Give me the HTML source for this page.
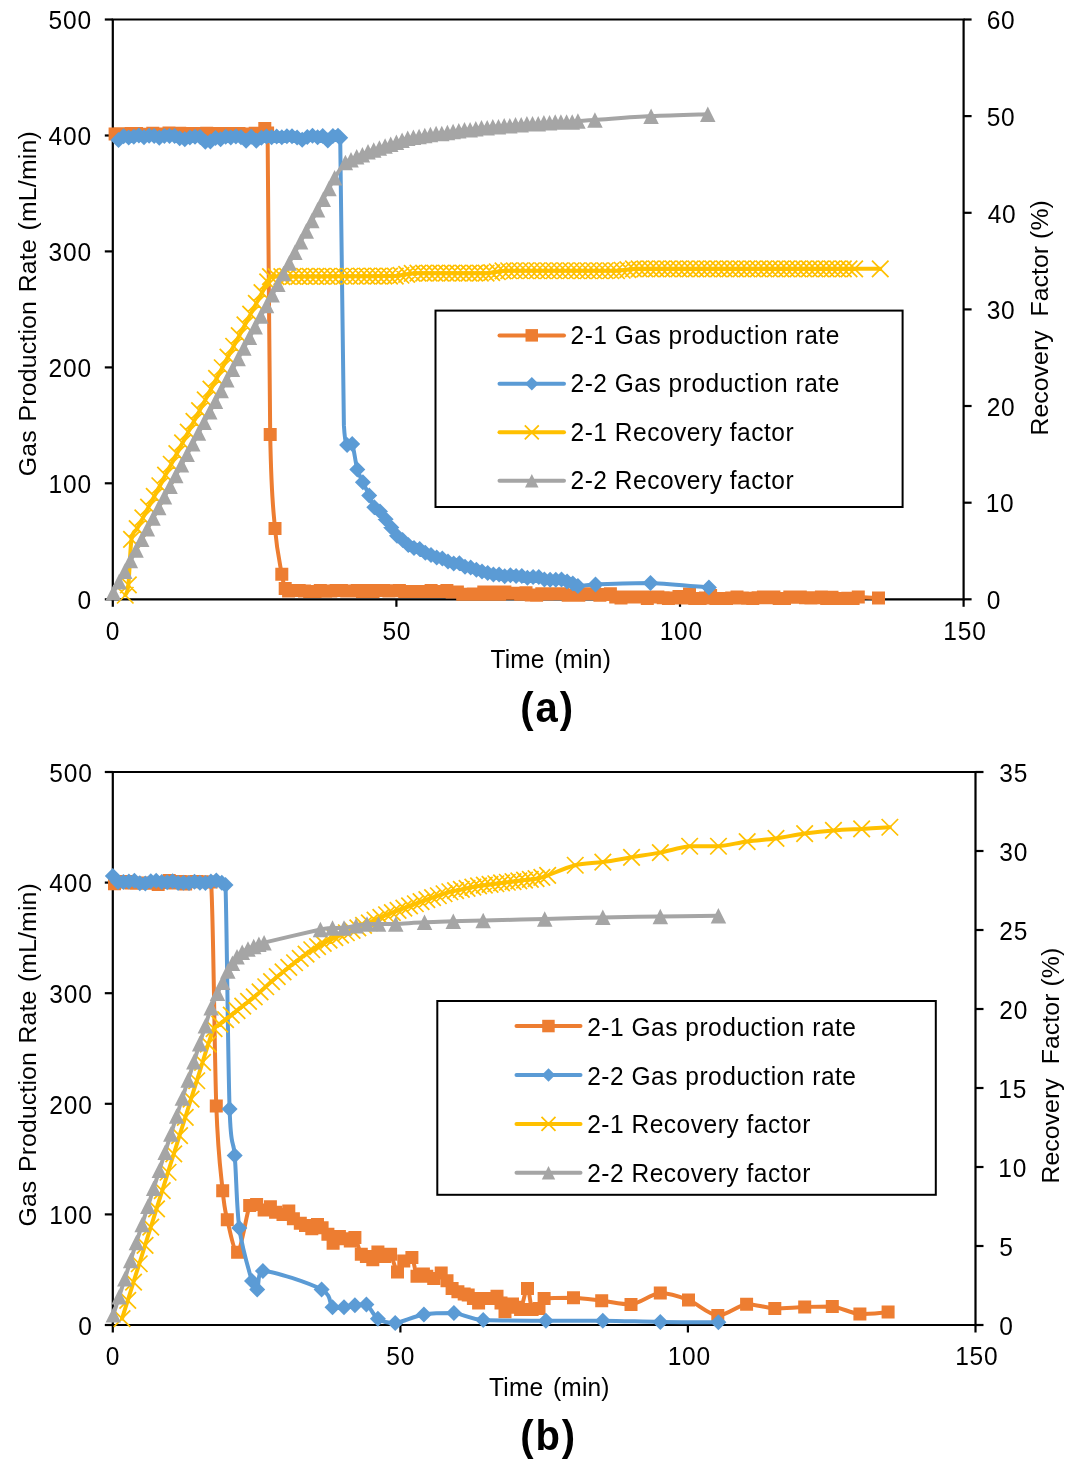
<!DOCTYPE html>
<html><head><meta charset="utf-8"><style>
html,body{margin:0;padding:0;background:#fff;}
body{width:1074px;height:1462px;overflow:hidden;}
svg{display:block;filter:blur(0.45px);}
</style></head><body>
<svg width="1074" height="1462" viewBox="0 0 1074 1462">
<rect width="1074" height="1462" fill="#fff"/>
<g stroke="#000" stroke-width="2.2" fill="none"><path d="M112.8 19.5V599.3H963.6V19.5"/><path d="M111.7 19.5H964.7"/><path d="M104.8 599.3H112.8"/><path d="M104.8 483.3H112.8"/><path d="M104.8 367.4H112.8"/><path d="M104.8 251.4H112.8"/><path d="M104.8 135.5H112.8"/><path d="M104.8 19.5H112.8"/><path d="M963.6 599.3H971.6"/><path d="M963.6 502.7H971.6"/><path d="M963.6 406H971.6"/><path d="M963.6 309.4H971.6"/><path d="M963.6 212.8H971.6"/><path d="M963.6 116.1H971.6"/><path d="M963.6 19.5H971.6"/><path d="M112.8 599.3V606.8"/><path d="M396.4 599.3V606.8"/><path d="M680 599.3V606.8"/><path d="M963.6 599.3V606.8"/></g>
<path fill="none" stroke="#ED7D31" stroke-width="4.0" stroke-linejoin="round" stroke-linecap="round" d="M115.1 134.1C116 134 118.7 133.7 120.5 133.7C122.3 133.7 124 133.9 125.8 133.9C127.6 133.9 129.4 133.6 131.2 133.6C133 133.5 134.8 133.5 136.6 133.5C138.4 133.7 140.2 134.2 142 134.3C143.8 134.4 145.6 134.4 147.4 134.4C149.2 134.2 151 133.3 152.8 133.3C154.6 133.3 156.4 133.9 158.2 134.1C160 134.1 161.8 134.1 163.6 134.1C165.4 133.9 167.2 133.1 169 133C170.7 133 172.5 133.7 174.3 133.8C176.1 133.8 177.9 133.3 179.7 133.3C181.5 133.3 183.3 133.7 185.1 133.8C186.9 133.8 188.7 133.5 190.5 133.5C192.3 133.6 194.1 134.2 195.9 134.2C197.7 134.2 199.5 133.7 201.3 133.5C203.1 133.4 204.9 133.2 206.7 133.2C208.5 133.2 210.3 133.7 212.1 133.7C213.9 133.7 215.7 133.4 217.4 133.4C219.2 133.4 221 133.4 222.8 133.5C224.6 133.6 226.4 134.3 228.2 134.3C230 134.3 231.8 133.5 233.6 133.4C235.4 133.4 237.2 133.5 239 133.6C240.8 133.7 242.6 133.9 244.4 134C246.2 134.1 248 134.4 249.8 134.4C251.6 134.2 252.7 134.2 255.2 133.2C257.7 132.2 262.7 128.5 264.8 128.5C266.9 128.5 266.7 128.5 267.6 133.1C268.5 184.2 269 368.7 270.2 434.6C271.4 500.5 273.1 505.3 275 528.6C277 551.8 280.1 564.3 281.8 574.3C283.5 584.2 284.1 585.7 285.2 588.5C286.4 591 287.2 590.7 288.6 591C290.1 591 292.1 590.5 293.9 590.4C295.7 590.4 297.4 590.4 299.2 590.4C300.9 590.5 302.7 590.9 304.5 591.1C306.2 591.2 308 591.4 309.7 591.5C311.5 591.5 313.2 591.5 315 591.5C316.8 591.3 318.5 590.5 320.3 590.4C322 590.4 323.8 591.1 325.6 591.2C327.3 591.2 329.1 591.2 330.8 591C332.6 590.9 334.3 590.5 336.1 590.4C337.9 590.4 339.6 590.4 341.4 590.4C343.1 590.5 344.9 590.8 346.7 590.9C348.4 590.9 350.2 590.9 351.9 590.9C353.7 590.8 355.4 590.4 357.2 590.4C359 590.5 360.7 591.4 362.5 591.5C364.2 591.5 366 590.6 367.8 590.6C369.5 590.6 371.3 591.5 373 591.5C374.8 591.4 376.5 590.6 378.3 590.4C380.1 590.4 381.8 590.4 383.6 590.5C385.3 590.5 387.1 590.8 388.9 590.9C390.6 590.9 392.4 590.8 394.1 590.8C395.9 590.7 397.6 590.6 399.4 590.6C401.2 590.7 402.9 591.3 404.7 591.5C406.4 591.5 408.2 591.4 410 591.4C411.7 591.4 413.5 591.5 415.2 591.5C417 591.5 418.7 591.5 420.5 591.5C422.3 591.5 424 591.5 425.8 591.5C427.5 591.3 429.3 590.4 431.1 590.4C432.8 590.4 434.6 591.3 436.3 591.5C438.1 591.5 439.8 591.5 441.6 591.4C443.4 591.3 445.1 590.4 446.9 590.4C448.6 590.5 450.4 591.6 452.2 591.9C453.9 591.9 455.7 591.9 457.4 591.9C459.2 592.3 460.9 593.8 462.7 594.2C464.5 594.2 466.2 594.2 468 594.2C469.7 594.2 471.5 593.9 473.3 593.9C475 593.9 476.8 594.2 478.5 594.2C480.3 593.9 482 591.9 483.8 591.9C485.6 591.9 487.3 594.2 489.1 594.2C490.8 594.2 492.6 591.9 494.4 591.9C496.1 591.9 497.9 594.2 499.6 594.2C501.4 594.2 503.1 592 504.9 591.9C506.7 591.9 508.4 593.1 510.2 593.3C511.9 593.3 513.7 593.3 515.5 593.3C517.2 593.4 519 594.2 520.7 594.2C522.5 594.1 524.2 592.8 526 592.8C527.8 592.9 529.5 594.5 531.3 594.9C533 595.2 534.8 595.2 536.6 595.2C538.3 595.1 540.1 594.1 541.8 593.8C543.6 593.8 545.3 593.9 547.1 593.9C548.9 593.9 550.6 593.9 552.4 593.8C554.1 593.8 555.9 593.8 557.7 593.8C559.4 593.8 561.2 593.8 562.9 593.8C564.7 594.1 566.4 595 568.2 595.2C570 595.2 571.7 595.2 573.5 595.2C575.2 595.2 577 595.2 578.8 595.2C580.5 594.9 582.3 594.1 584 593.8C585.8 593.8 587.5 593.8 589.3 593.8C591.1 593.8 592.8 593.8 594.6 593.8C596.3 594.1 598.1 595.1 599.9 595.2C601.6 595.2 603.4 594.7 605.1 594.4C606.9 594.2 608.6 593.8 610.4 593.8C612.2 594.3 613.9 596.4 615.7 597.1C617.4 597.8 619.2 598 621 598C622.7 598 624.5 597.2 626.2 597.1C628 597.1 629.7 597.1 631.5 597.1C633.3 597.1 635 597.1 636.8 597.1C638.5 597.1 640.3 597.1 642.1 597.1C643.8 597.3 645.6 598.4 647.3 598.4C649.1 598.4 650.8 597.3 652.6 597.1C654.4 597.1 656.1 597.1 657.9 597.1C659.6 597.2 661.4 597.5 663.2 597.7C664.9 597.9 666.7 598.3 668.4 598.4C670.2 598.4 671.9 598.3 673.7 598C675.5 597.6 677.2 596.5 679 596.5C680.7 596.5 682.5 597.9 684.3 597.9C686 597.5 687.8 594 689.5 594C691.3 594 693 597.6 694.8 598.4C696.6 598.4 698.3 598.4 700.1 598.4C701.8 598.3 703.6 598.4 705.4 598C707.1 597.5 708.9 595.5 710.6 595.5C712.4 595.6 714.1 597.9 715.9 598.4C717.7 598.4 719.4 598.4 721.2 598.4C722.9 598.4 724.7 598.4 726.5 598.4C728.2 598.3 730 598.2 731.7 598C733.5 597.8 735.2 597.1 737 597.1C738.8 597.1 740.5 597.7 742.3 597.9C744 598.1 745.8 598.2 747.6 598.3C749.3 598.3 751.1 598.4 752.8 598.4C754.6 598.3 756.3 598 758.1 597.8C759.9 597.6 761.6 597.1 763.4 597.1C765.1 597.1 766.9 597.8 768.7 597.8C770.4 597.8 772.2 597.1 773.9 597.1C775.7 597.2 777.4 598.2 779.2 598.4C781 598.4 782.7 598.4 784.5 598.4C786.2 598.2 788 597.3 789.8 597.1C791.5 597.1 793.3 597.2 795 597.2C796.8 597.2 798.5 597.1 800.3 597.1C802.1 597.2 803.8 597.5 805.6 597.7C807.3 597.8 809.1 598.1 810.9 598.1C812.6 598.1 814.4 598 816.1 597.8C817.9 597.6 819.6 597.1 821.4 597.1C823.2 597.2 824.9 598.3 826.7 598.4C828.4 598.4 830.2 597.3 832 597.3C833.7 597.3 835.5 598.2 837.2 598.4C839 598.4 840.7 598.4 842.5 598.4C844.3 598.4 846 598.3 847.8 598.3C849.5 598.3 851.3 598.4 853.1 598.4C854.8 598.2 854.1 597.2 858.3 597.1C862.6 597.1 875.2 597.9 878.5 598"/><path fill="#ED7D31" d="M108.6 127.6h13v13h-13zM114 127.2h13v13h-13zM119.3 127.4h13v13h-13zM124.7 127.1h13v13h-13zM130.1 127h13v13h-13zM135.5 127.8h13v13h-13zM140.9 127.9h13v13h-13zM146.3 126.8h13v13h-13zM151.7 127.6h13v13h-13zM157.1 127.6h13v13h-13zM162.5 126.5h13v13h-13zM167.8 127.3h13v13h-13zM173.2 126.8h13v13h-13zM178.6 127.3h13v13h-13zM184 127h13v13h-13zM189.4 127.7h13v13h-13zM194.8 127h13v13h-13zM200.2 126.7h13v13h-13zM205.6 127.2h13v13h-13zM210.9 126.9h13v13h-13zM216.3 127h13v13h-13zM221.7 127.8h13v13h-13zM227.1 126.9h13v13h-13zM232.5 127.1h13v13h-13zM237.9 127.5h13v13h-13zM243.3 127.9h13v13h-13zM248.7 126.7h13v13h-13zM258.3 122h13v13h-13zM261.1 126.6h13v13h-13zM263.7 428.1h13v13h-13zM268.5 522.1h13v13h-13zM275.3 567.8h13v13h-13zM278.7 582h13v13h-13zM282.1 584.5h13v13h-13zM287.4 583.9h13v13h-13zM292.7 583.9h13v13h-13zM298 584.6h13v13h-13zM303.2 585h13v13h-13zM308.5 585h13v13h-13zM313.8 583.9h13v13h-13zM319.1 584.7h13v13h-13zM324.3 584.5h13v13h-13zM329.6 583.9h13v13h-13zM334.9 583.9h13v13h-13zM340.2 584.4h13v13h-13zM345.4 584.4h13v13h-13zM350.7 583.9h13v13h-13zM356 585h13v13h-13zM361.3 584.1h13v13h-13zM366.5 585h13v13h-13zM371.8 583.9h13v13h-13zM377.1 584h13v13h-13zM382.4 584.4h13v13h-13zM387.6 584.3h13v13h-13zM392.9 584.1h13v13h-13zM398.2 585h13v13h-13zM403.5 584.9h13v13h-13zM408.7 585h13v13h-13zM414 585h13v13h-13zM419.3 585h13v13h-13zM424.6 583.9h13v13h-13zM429.8 585h13v13h-13zM435.1 584.9h13v13h-13zM440.4 583.9h13v13h-13zM445.7 585.4h13v13h-13zM450.9 585.4h13v13h-13zM456.2 587.7h13v13h-13zM461.5 587.7h13v13h-13zM466.8 587.4h13v13h-13zM472 587.7h13v13h-13zM477.3 585.4h13v13h-13zM482.6 587.7h13v13h-13zM487.9 585.4h13v13h-13zM493.1 587.7h13v13h-13zM498.4 585.4h13v13h-13zM503.7 586.8h13v13h-13zM509 586.8h13v13h-13zM514.2 587.7h13v13h-13zM519.5 586.3h13v13h-13zM524.8 588.4h13v13h-13zM530.1 588.7h13v13h-13zM535.3 587.3h13v13h-13zM540.6 587.4h13v13h-13zM545.9 587.3h13v13h-13zM551.2 587.3h13v13h-13zM556.4 587.3h13v13h-13zM561.7 588.7h13v13h-13zM567 588.7h13v13h-13zM572.3 588.7h13v13h-13zM577.5 587.3h13v13h-13zM582.8 587.3h13v13h-13zM588.1 587.3h13v13h-13zM593.4 588.7h13v13h-13zM598.6 587.9h13v13h-13zM603.9 587.3h13v13h-13zM609.2 590.6h13v13h-13zM614.5 591.5h13v13h-13zM619.7 590.6h13v13h-13zM625 590.6h13v13h-13zM630.3 590.6h13v13h-13zM635.6 590.6h13v13h-13zM640.8 591.9h13v13h-13zM646.1 590.6h13v13h-13zM651.4 590.6h13v13h-13zM656.7 591.2h13v13h-13zM661.9 591.9h13v13h-13zM667.2 591.5h13v13h-13zM672.5 590h13v13h-13zM677.8 591.4h13v13h-13zM683 587.5h13v13h-13zM688.3 591.9h13v13h-13zM693.6 591.9h13v13h-13zM698.9 591.5h13v13h-13zM704.1 589h13v13h-13zM709.4 591.9h13v13h-13zM714.7 591.9h13v13h-13zM720 591.9h13v13h-13zM725.2 591.5h13v13h-13zM730.5 590.6h13v13h-13zM735.8 591.4h13v13h-13zM741.1 591.8h13v13h-13zM746.3 591.9h13v13h-13zM751.6 591.3h13v13h-13zM756.9 590.6h13v13h-13zM762.2 591.3h13v13h-13zM767.4 590.6h13v13h-13zM772.7 591.9h13v13h-13zM778 591.9h13v13h-13zM783.3 590.6h13v13h-13zM788.5 590.7h13v13h-13zM793.8 590.6h13v13h-13zM799.1 591.2h13v13h-13zM804.4 591.6h13v13h-13zM809.6 591.3h13v13h-13zM814.9 590.6h13v13h-13zM820.2 591.9h13v13h-13zM825.5 590.8h13v13h-13zM830.7 591.9h13v13h-13zM836 591.9h13v13h-13zM841.3 591.8h13v13h-13zM846.6 591.9h13v13h-13zM851.8 590.6h13v13h-13zM872 591.5h13v13h-13z"/>
<path fill="none" stroke="#5B9BD5" stroke-width="4.0" stroke-linejoin="round" stroke-linecap="round" d="M118.5 140.1C119.3 139.5 121.9 136.6 123.6 136.2C125.3 136.2 127 137.3 128.7 137.4C130.4 137.4 132.1 137.1 133.8 136.8C135.5 136.5 137.2 135.6 138.9 135.6C140.6 135.7 142.3 137.3 144 137.3C145.7 137.3 147.4 136 149.1 135.8C150.8 135.8 152.5 135.8 154.2 136.1C155.9 136.4 157.6 137.7 159.3 137.7C161 137.7 162.7 136.2 164.4 136C166.1 136 167.8 136 169.5 136C171.2 136 172.9 136 174.6 136C176.3 136.4 178 137.7 179.7 138.2C181.4 138.8 183.1 139.3 184.8 139.3C186.5 139.2 188.2 137.9 189.9 137.5C191.6 137.1 193.3 136.9 195 136.8C196.7 136.8 198.4 136.8 200.1 136.9C201.9 137.8 203.6 141 205.3 141.7C207 141.7 208.7 141.7 210.4 141.4C212.1 140.8 213.8 138.4 215.5 138.1C217.2 138.1 218.9 139.3 220.6 139.3C222.3 139.1 224 137.2 225.7 136.8C227.4 136.8 229.1 137.4 230.8 137.4C232.5 137.3 234.2 136.5 235.9 136.4C237.6 136.4 239.3 136.5 241 137.2C242.7 138 244.4 140.8 246.1 140.8C247.8 140.7 249.5 136.7 251.2 136.7C252.9 136.7 254.6 140.5 256.3 140.7C258 140.7 259.7 138.4 261.4 137.7C263.1 137.1 264.8 136.7 266.5 136.6C268.2 136.6 269.9 137.2 271.6 137.2C273.3 137.2 275 136.5 276.7 136.5C278.4 136.5 280.1 137.2 281.8 137.2C283.5 137.2 285.2 136.4 286.9 136.3C288.6 136.3 290.3 136.3 292 136.3C293.7 136.5 295.4 137 297.1 137.6C298.8 138.1 300.5 139.8 302.2 139.8C303.9 139.7 305.6 137.7 307.3 137.1C309.1 136.4 310.8 135.8 312.5 135.8C314.2 135.8 315.9 137.2 317.6 137.2C319.3 137.2 321 136 322.7 136C324.4 136.6 326.1 140.4 327.8 140.4C329.5 140.4 331.2 136.8 332.9 136C334.6 135.8 336.7 135.8 338 135.8C339.2 136.1 339.3 135.8 340.2 137.8C341.2 186 342.8 374.1 343.9 425.4C345.1 445.1 345.7 442 347.1 445.1C348.4 445.1 350.5 443.9 352.2 443.9C353.9 448 355.5 463 357.3 469.4C359.1 475.8 361 477.8 362.9 482.2C364.9 486.5 367.3 491.3 369.2 495.5C371.1 499.7 372.5 504.7 374.3 507.3C376.1 510 378.1 509.5 380 511.4C381.8 513.4 383.7 516.5 385.6 519.2C387.5 521.8 389.4 524.6 391.3 527.4C393.2 530.1 395.1 533.7 397 535.8C398.9 537.9 400.7 538.6 402.6 540.1C404.5 541.7 406.4 543.8 408.3 545.1C410.2 546.4 412.1 547.4 414 548.1C415.9 548.8 417.8 548.4 419.7 549.1C421.5 549.9 423.4 551.7 425.3 552.7C427.2 553.6 429.1 554.1 431 554.9C432.9 555.7 434.8 556.9 436.7 557.5C438.6 558.1 440.5 558 442.3 558.6C444.2 559.3 446.1 560.8 448 561.6C449.9 562.4 451.8 563.1 453.7 563.4C455.6 563.4 457.5 563.3 459.4 563.3C461.2 563.9 463.1 566 465 566.7C466.9 567.4 468.8 567 470.7 567.5C472.6 568 474.5 569.2 476.4 569.8C478.3 570.5 480.2 570.8 482 571.4C483.9 571.9 485.8 572.5 487.7 573C489.6 573.5 491.5 574.2 493.4 574.5C495.3 574.5 497.2 574.4 499.1 574.4C501 574.7 502.8 576 504.7 576.2C506.6 576.2 508.5 575.2 510.4 575.2C512.3 575.2 514.2 576 516.1 576.1C518 576.1 519.9 576.1 521.8 576.1C523.6 576.4 525.5 577.6 527.4 577.7C529.3 577.7 531.2 577 533.1 576.9C535 576.9 536.9 576.9 538.8 577C540.7 577.4 542.5 579 544.4 579.4C546.3 579.7 548.2 579.6 550.1 579.7C552 579.7 553.9 579.7 555.8 579.7C557.7 579.6 559.6 579.6 561.5 579.6C563.3 579.9 565.2 580.8 567.1 581.4C569 582.1 571 582.8 572.8 583.6C574.6 584.3 574.1 585.8 577.9 586C581.7 586 583.4 585 595.5 584.5C607.6 584 631.6 582.9 650.5 582.9C669.4 583.5 699.2 586.8 708.9 587.6"/><path fill="#5B9BD5" d="M118.5 132.1l8.0 8.0l-8.0 8.0l-8.0 -8.0zM123.6 128.2l8.0 8.0l-8.0 8.0l-8.0 -8.0zM128.7 129.4l8.0 8.0l-8.0 8.0l-8.0 -8.0zM133.8 128.8l8.0 8.0l-8.0 8.0l-8.0 -8.0zM138.9 127.6l8.0 8.0l-8.0 8.0l-8.0 -8.0zM144 129.3l8.0 8.0l-8.0 8.0l-8.0 -8.0zM149.1 127.8l8.0 8.0l-8.0 8.0l-8.0 -8.0zM154.2 128.1l8.0 8.0l-8.0 8.0l-8.0 -8.0zM159.3 129.7l8.0 8.0l-8.0 8.0l-8.0 -8.0zM164.4 128l8.0 8.0l-8.0 8.0l-8.0 -8.0zM169.5 128l8.0 8.0l-8.0 8.0l-8.0 -8.0zM174.6 128l8.0 8.0l-8.0 8.0l-8.0 -8.0zM179.7 130.2l8.0 8.0l-8.0 8.0l-8.0 -8.0zM184.8 131.3l8.0 8.0l-8.0 8.0l-8.0 -8.0zM189.9 129.5l8.0 8.0l-8.0 8.0l-8.0 -8.0zM195 128.8l8.0 8.0l-8.0 8.0l-8.0 -8.0zM200.1 128.9l8.0 8.0l-8.0 8.0l-8.0 -8.0zM205.3 133.7l8.0 8.0l-8.0 8.0l-8.0 -8.0zM210.4 133.4l8.0 8.0l-8.0 8.0l-8.0 -8.0zM215.5 130.1l8.0 8.0l-8.0 8.0l-8.0 -8.0zM220.6 131.3l8.0 8.0l-8.0 8.0l-8.0 -8.0zM225.7 128.8l8.0 8.0l-8.0 8.0l-8.0 -8.0zM230.8 129.4l8.0 8.0l-8.0 8.0l-8.0 -8.0zM235.9 128.4l8.0 8.0l-8.0 8.0l-8.0 -8.0zM241 129.2l8.0 8.0l-8.0 8.0l-8.0 -8.0zM246.1 132.8l8.0 8.0l-8.0 8.0l-8.0 -8.0zM251.2 128.7l8.0 8.0l-8.0 8.0l-8.0 -8.0zM256.3 132.7l8.0 8.0l-8.0 8.0l-8.0 -8.0zM261.4 129.7l8.0 8.0l-8.0 8.0l-8.0 -8.0zM266.5 128.6l8.0 8.0l-8.0 8.0l-8.0 -8.0zM271.6 129.2l8.0 8.0l-8.0 8.0l-8.0 -8.0zM276.7 128.5l8.0 8.0l-8.0 8.0l-8.0 -8.0zM281.8 129.2l8.0 8.0l-8.0 8.0l-8.0 -8.0zM286.9 128.3l8.0 8.0l-8.0 8.0l-8.0 -8.0zM292 128.3l8.0 8.0l-8.0 8.0l-8.0 -8.0zM297.1 129.6l8.0 8.0l-8.0 8.0l-8.0 -8.0zM302.2 131.8l8.0 8.0l-8.0 8.0l-8.0 -8.0zM307.3 129.1l8.0 8.0l-8.0 8.0l-8.0 -8.0zM312.5 127.8l8.0 8.0l-8.0 8.0l-8.0 -8.0zM317.6 129.2l8.0 8.0l-8.0 8.0l-8.0 -8.0zM322.7 128l8.0 8.0l-8.0 8.0l-8.0 -8.0zM327.8 132.4l8.0 8.0l-8.0 8.0l-8.0 -8.0zM332.9 128l8.0 8.0l-8.0 8.0l-8.0 -8.0zM338 127.8l8.0 8.0l-8.0 8.0l-8.0 -8.0zM340.2 129.8l8.0 8.0l-8.0 8.0l-8.0 -8.0zM347.1 437.1l8.0 8.0l-8.0 8.0l-8.0 -8.0zM352.2 435.9l8.0 8.0l-8.0 8.0l-8.0 -8.0zM357.3 461.4l8.0 8.0l-8.0 8.0l-8.0 -8.0zM362.9 474.2l8.0 8.0l-8.0 8.0l-8.0 -8.0zM369.2 487.5l8.0 8.0l-8.0 8.0l-8.0 -8.0zM374.3 499.3l8.0 8.0l-8.0 8.0l-8.0 -8.0zM380 503.4l8.0 8.0l-8.0 8.0l-8.0 -8.0zM385.6 511.2l8.0 8.0l-8.0 8.0l-8.0 -8.0zM391.3 519.4l8.0 8.0l-8.0 8.0l-8.0 -8.0zM397 527.8l8.0 8.0l-8.0 8.0l-8.0 -8.0zM402.6 532.1l8.0 8.0l-8.0 8.0l-8.0 -8.0zM408.3 537.1l8.0 8.0l-8.0 8.0l-8.0 -8.0zM414 540.1l8.0 8.0l-8.0 8.0l-8.0 -8.0zM419.7 541.1l8.0 8.0l-8.0 8.0l-8.0 -8.0zM425.3 544.7l8.0 8.0l-8.0 8.0l-8.0 -8.0zM431 546.9l8.0 8.0l-8.0 8.0l-8.0 -8.0zM436.7 549.5l8.0 8.0l-8.0 8.0l-8.0 -8.0zM442.3 550.6l8.0 8.0l-8.0 8.0l-8.0 -8.0zM448 553.6l8.0 8.0l-8.0 8.0l-8.0 -8.0zM453.7 555.4l8.0 8.0l-8.0 8.0l-8.0 -8.0zM459.4 555.3l8.0 8.0l-8.0 8.0l-8.0 -8.0zM465 558.7l8.0 8.0l-8.0 8.0l-8.0 -8.0zM470.7 559.5l8.0 8.0l-8.0 8.0l-8.0 -8.0zM476.4 561.8l8.0 8.0l-8.0 8.0l-8.0 -8.0zM482 563.4l8.0 8.0l-8.0 8.0l-8.0 -8.0zM487.7 565l8.0 8.0l-8.0 8.0l-8.0 -8.0zM493.4 566.5l8.0 8.0l-8.0 8.0l-8.0 -8.0zM499.1 566.4l8.0 8.0l-8.0 8.0l-8.0 -8.0zM504.7 568.2l8.0 8.0l-8.0 8.0l-8.0 -8.0zM510.4 567.2l8.0 8.0l-8.0 8.0l-8.0 -8.0zM516.1 568.1l8.0 8.0l-8.0 8.0l-8.0 -8.0zM521.8 568.1l8.0 8.0l-8.0 8.0l-8.0 -8.0zM527.4 569.7l8.0 8.0l-8.0 8.0l-8.0 -8.0zM533.1 568.9l8.0 8.0l-8.0 8.0l-8.0 -8.0zM538.8 569l8.0 8.0l-8.0 8.0l-8.0 -8.0zM544.4 571.4l8.0 8.0l-8.0 8.0l-8.0 -8.0zM550.1 571.7l8.0 8.0l-8.0 8.0l-8.0 -8.0zM555.8 571.7l8.0 8.0l-8.0 8.0l-8.0 -8.0zM561.5 571.6l8.0 8.0l-8.0 8.0l-8.0 -8.0zM567.1 573.4l8.0 8.0l-8.0 8.0l-8.0 -8.0zM572.8 575.6l8.0 8.0l-8.0 8.0l-8.0 -8.0zM577.9 578l8.0 8.0l-8.0 8.0l-8.0 -8.0zM595.5 576.5l8.0 8.0l-8.0 8.0l-8.0 -8.0zM650.5 574.9l8.0 8.0l-8.0 8.0l-8.0 -8.0zM708.9 579.6l8.0 8.0l-8.0 8.0l-8.0 -8.0z"/>
<path fill="none" stroke="#FFC000" stroke-width="4.0" stroke-linejoin="round" stroke-linecap="round" d="M125.3 595.2C125.8 593.5 127.4 594.1 128.4 584.8C129.4 575.5 130.1 548.7 131.5 539.4C133 530 135.3 532.2 137.2 528.6C139.1 525.1 141 521.5 142.9 517.9C144.8 514.3 146.6 510.8 148.5 507.2C150.4 503.6 152.3 500 154.2 496.5C156.1 492.9 158 489.3 159.9 485.7C161.8 482.2 163.7 478.6 165.5 475C167.4 471.4 169.3 467.8 171.2 464.3C173.1 460.7 175 457.1 176.9 453.5C178.8 450 180.7 446.4 182.6 442.8C184.5 439.2 186.3 435.7 188.2 432.1C190.1 428.5 192 424.9 193.9 421.4C195.8 417.8 197.7 414.2 199.6 410.6C201.5 407.1 203.4 403.5 205.3 399.9C207.1 396.3 209 392.8 210.9 389.2C212.8 385.6 214.7 382 216.6 378.5C218.5 374.9 220.4 371.3 222.3 367.7C224.2 364.2 226.1 360.6 227.9 357C229.8 353.4 231.7 349.9 233.6 346.3C235.5 342.7 237.4 339.1 239.3 335.6C241.2 332 243.1 328.4 245 324.8C246.8 321.3 248.7 317.7 250.6 314.1C252.5 310.5 254.4 307 256.3 303.4C258.2 299.8 260.1 296.2 262 292.7C263.9 289.1 266.2 284.6 267.6 281.9C269.1 279.2 269.1 277.4 270.5 276.5C271.9 276.5 274.3 276.5 276.2 276.5C278 276.5 279.9 276.5 281.8 276.5C283.7 276.5 285.6 276.5 287.5 276.5C289.4 276.5 291.3 276.5 293.2 276.5C295.1 276.5 297 276.4 298.8 276.4C300.7 276.4 302.6 276.4 304.5 276.4C306.4 276.4 308.3 276.4 310.2 276.4C312.1 276.4 314 276.4 315.9 276.4C317.7 276.4 319.6 276.4 321.5 276.4C323.4 276.3 325.3 276.3 327.2 276.3C329.1 276.3 331 276.3 332.9 276.3C334.8 276.3 336.7 276.3 338.5 276.3C340.4 276.3 342.3 276.3 344.2 276.3C346.1 276.3 348 276.2 349.9 276.2C351.8 276.2 353.7 276.2 355.6 276.2C357.5 276.2 359.3 276.2 361.2 276.2C363.1 276.2 365 276.2 366.9 276.2C368.8 276.2 370.7 276.2 372.6 276.2C374.5 276.1 376.4 276.1 378.2 276.1C380.1 276.1 382 276.1 383.9 276.1C385.8 276.1 387.7 276.1 389.6 276.1C391.5 276.1 393.4 276.1 395.3 276.1C397.2 275.9 399 275.6 400.9 275.3C402.8 275 404.7 274.6 406.6 274.3C408.5 274 410.4 273.5 412.3 273.4C414.2 273.2 416.1 273.2 418 273.2C419.8 273.2 421.7 273.2 423.6 273.2C425.5 273.2 427.4 273.2 429.3 273.2C431.2 273.2 433.1 273.2 435 273.2C436.9 273.2 438.8 273.2 440.6 273.2C442.5 273.2 444.4 273.2 446.3 273.2C448.2 273.2 450.1 273.2 452 273.2C453.9 273.2 455.8 273.2 457.7 273.2C459.5 273.2 461.4 273.2 463.3 273.2C465.2 273.2 467.1 273.2 469 273.2C470.9 273.2 472.8 273.2 474.7 273.2C476.6 273.2 478.5 273.2 480.3 273.2C482.2 273.2 484.1 273.2 486 273.2C487.9 273.1 489.8 272.8 491.7 272.5C493.6 272.3 495.5 272 497.4 271.7C499.3 271.4 501.1 271.1 503 270.9C504.9 270.7 506.8 270.8 508.7 270.7C510.6 270.7 512.5 270.7 514.4 270.7C516.3 270.7 518.2 270.7 520 270.7C521.9 270.7 523.8 270.7 525.7 270.7C527.6 270.7 529.5 270.7 531.4 270.7C533.3 270.7 535.2 270.7 537.1 270.7C539 270.7 540.8 270.7 542.7 270.7C544.6 270.7 546.5 270.7 548.4 270.7C550.3 270.7 552.2 270.7 554.1 270.7C556 270.7 557.9 270.7 559.8 270.7C561.6 270.7 563.5 270.7 565.4 270.7C567.3 270.7 569.2 270.7 571.1 270.7C573 270.7 574.9 270.7 576.8 270.7C578.7 270.7 580.6 270.7 582.4 270.7C584.3 270.7 586.2 270.7 588.1 270.7C590 270.7 591.9 270.7 593.8 270.7C595.7 270.7 597.6 270.7 599.5 270.7C601.3 270.7 603.2 270.7 605.1 270.7C607 270.7 608.9 270.7 610.8 270.7C612.7 270.7 614.6 270.7 616.5 270.7C618.4 270.7 620.3 270.4 622.1 270.2C624 270 625.9 269.8 627.8 269.6C629.7 269.4 631.6 269.1 633.5 268.9C635.4 268.8 637.3 268.8 639.2 268.8C641.1 268.8 642.9 268.8 644.8 268.8C646.7 268.8 648.6 268.8 650.5 268.8C652.4 268.8 654.3 268.8 656.2 268.8C658.1 268.8 660 268.8 661.8 268.8C663.7 268.8 665.6 268.8 667.5 268.8C669.4 268.8 671.3 268.8 673.2 268.8C675.1 268.8 677 268.8 678.9 268.8C680.8 268.8 682.6 268.8 684.5 268.8C686.4 268.8 688.3 268.8 690.2 268.8C692.1 268.8 694 268.8 695.9 268.8C697.8 268.8 699.7 268.8 701.6 268.8C703.4 268.8 705.3 268.8 707.2 268.8C709.1 268.8 711 268.8 712.9 268.8C714.8 268.8 716.7 268.8 718.6 268.8C720.5 268.8 722.4 268.8 724.2 268.8C726.1 268.8 728 268.8 729.9 268.8C731.8 268.8 733.7 268.8 735.6 268.8C737.5 268.8 739.4 268.8 741.3 268.8C743.1 268.8 745 268.8 746.9 268.8C748.8 268.8 750.7 268.8 752.6 268.8C754.5 268.8 756.4 268.8 758.3 268.8C760.2 268.8 762.1 268.8 763.9 268.8C765.8 268.8 767.7 268.8 769.6 268.8C771.5 268.8 773.4 268.8 775.3 268.8C777.2 268.8 779.1 268.8 781 268.8C782.9 268.8 784.7 268.8 786.6 268.8C788.5 268.8 790.4 268.8 792.3 268.8C794.2 268.8 796.1 268.8 798 268.8C799.9 268.8 801.8 268.8 803.6 268.8C805.5 268.8 807.4 268.8 809.3 268.8C811.2 268.8 813.1 268.8 815 268.8C816.9 268.8 818.8 268.8 820.7 268.8C822.6 268.8 824.4 268.8 826.3 268.8C828.2 268.8 830.1 268.8 832 268.8C833.9 268.8 835.8 268.8 837.7 268.8C839.6 268.8 841.5 268.8 843.4 268.8C845.2 268.8 847.1 268.8 849 268.8C850.9 268.8 849.5 268.8 854.7 268.8C859.9 268.8 876 268.8 880.2 268.8"/><path fill="none" stroke="#FFC000" stroke-width="1.75" d="M117 587l16.5 16.5M117 603.5l16.5 -16.5M120.1 576.6l16.5 16.5M120.1 593.1l16.5 -16.5M123.3 531.1l16.5 16.5M123.3 547.6l16.5 -16.5M128.9 520.4l16.5 16.5M128.9 536.9l16.5 -16.5M134.6 509.7l16.5 16.5M134.6 526.2l16.5 -16.5M140.3 498.9l16.5 16.5M140.3 515.4l16.5 -16.5M146 488.2l16.5 16.5M146 504.7l16.5 -16.5M151.6 477.5l16.5 16.5M151.6 494l16.5 -16.5M157.3 466.8l16.5 16.5M157.3 483.3l16.5 -16.5M163 456l16.5 16.5M163 472.5l16.5 -16.5M168.6 445.3l16.5 16.5M168.6 461.8l16.5 -16.5M174.3 434.6l16.5 16.5M174.3 451.1l16.5 -16.5M180 423.8l16.5 16.5M180 440.3l16.5 -16.5M185.7 413.1l16.5 16.5M185.7 429.6l16.5 -16.5M191.3 402.4l16.5 16.5M191.3 418.9l16.5 -16.5M197 391.7l16.5 16.5M197 408.2l16.5 -16.5M202.7 380.9l16.5 16.5M202.7 397.4l16.5 -16.5M208.3 370.2l16.5 16.5M208.3 386.7l16.5 -16.5M214 359.5l16.5 16.5M214 376l16.5 -16.5M219.7 348.8l16.5 16.5M219.7 365.3l16.5 -16.5M225.4 338l16.5 16.5M225.4 354.5l16.5 -16.5M231 327.3l16.5 16.5M231 343.8l16.5 -16.5M236.7 316.6l16.5 16.5M236.7 333.1l16.5 -16.5M242.4 305.9l16.5 16.5M242.4 322.4l16.5 -16.5M248.1 295.1l16.5 16.5M248.1 311.6l16.5 -16.5M253.7 284.4l16.5 16.5M253.7 300.9l16.5 -16.5M259.4 273.7l16.5 16.5M259.4 290.2l16.5 -16.5M262.2 268.3l16.5 16.5M262.2 284.8l16.5 -16.5M267.9 268.3l16.5 16.5M267.9 284.8l16.5 -16.5M273.6 268.3l16.5 16.5M273.6 284.8l16.5 -16.5M279.2 268.2l16.5 16.5M279.2 284.7l16.5 -16.5M284.9 268.2l16.5 16.5M284.9 284.7l16.5 -16.5M290.6 268.2l16.5 16.5M290.6 284.7l16.5 -16.5M296.3 268.2l16.5 16.5M296.3 284.7l16.5 -16.5M301.9 268.1l16.5 16.5M301.9 284.6l16.5 -16.5M307.6 268.1l16.5 16.5M307.6 284.6l16.5 -16.5M313.3 268.1l16.5 16.5M313.3 284.6l16.5 -16.5M319 268.1l16.5 16.5M319 284.6l16.5 -16.5M324.6 268.1l16.5 16.5M324.6 284.6l16.5 -16.5M330.3 268l16.5 16.5M330.3 284.5l16.5 -16.5M336 268l16.5 16.5M336 284.5l16.5 -16.5M341.6 268l16.5 16.5M341.6 284.5l16.5 -16.5M347.3 268l16.5 16.5M347.3 284.5l16.5 -16.5M353 267.9l16.5 16.5M353 284.4l16.5 -16.5M358.7 267.9l16.5 16.5M358.7 284.4l16.5 -16.5M364.3 267.9l16.5 16.5M364.3 284.4l16.5 -16.5M370 267.9l16.5 16.5M370 284.4l16.5 -16.5M375.7 267.9l16.5 16.5M375.7 284.4l16.5 -16.5M381.3 267.8l16.5 16.5M381.3 284.3l16.5 -16.5M387 267.8l16.5 16.5M387 284.3l16.5 -16.5M392.7 267l16.5 16.5M392.7 283.5l16.5 -16.5M398.4 266.1l16.5 16.5M398.4 282.6l16.5 -16.5M404 265.1l16.5 16.5M404 281.6l16.5 -16.5M409.7 264.9l16.5 16.5M409.7 281.4l16.5 -16.5M415.4 264.9l16.5 16.5M415.4 281.4l16.5 -16.5M421 264.9l16.5 16.5M421 281.4l16.5 -16.5M426.7 264.9l16.5 16.5M426.7 281.4l16.5 -16.5M432.4 264.9l16.5 16.5M432.4 281.4l16.5 -16.5M438.1 264.9l16.5 16.5M438.1 281.4l16.5 -16.5M443.7 264.9l16.5 16.5M443.7 281.4l16.5 -16.5M449.4 264.9l16.5 16.5M449.4 281.4l16.5 -16.5M455.1 264.9l16.5 16.5M455.1 281.4l16.5 -16.5M460.8 264.9l16.5 16.5M460.8 281.4l16.5 -16.5M466.4 264.9l16.5 16.5M466.4 281.4l16.5 -16.5M472.1 264.9l16.5 16.5M472.1 281.4l16.5 -16.5M477.8 264.9l16.5 16.5M477.8 281.4l16.5 -16.5M483.4 264.3l16.5 16.5M483.4 280.8l16.5 -16.5M489.1 263.5l16.5 16.5M489.1 280l16.5 -16.5M494.8 262.7l16.5 16.5M494.8 279.2l16.5 -16.5M500.5 262.5l16.5 16.5M500.5 279l16.5 -16.5M506.1 262.5l16.5 16.5M506.1 279l16.5 -16.5M511.8 262.5l16.5 16.5M511.8 279l16.5 -16.5M517.5 262.5l16.5 16.5M517.5 279l16.5 -16.5M523.1 262.5l16.5 16.5M523.1 279l16.5 -16.5M528.8 262.5l16.5 16.5M528.8 279l16.5 -16.5M534.5 262.5l16.5 16.5M534.5 279l16.5 -16.5M540.2 262.5l16.5 16.5M540.2 279l16.5 -16.5M545.8 262.5l16.5 16.5M545.8 279l16.5 -16.5M551.5 262.5l16.5 16.5M551.5 279l16.5 -16.5M557.2 262.5l16.5 16.5M557.2 279l16.5 -16.5M562.8 262.5l16.5 16.5M562.8 279l16.5 -16.5M568.5 262.5l16.5 16.5M568.5 279l16.5 -16.5M574.2 262.5l16.5 16.5M574.2 279l16.5 -16.5M579.9 262.5l16.5 16.5M579.9 279l16.5 -16.5M585.5 262.5l16.5 16.5M585.5 279l16.5 -16.5M591.2 262.5l16.5 16.5M591.2 279l16.5 -16.5M596.9 262.5l16.5 16.5M596.9 279l16.5 -16.5M602.6 262.5l16.5 16.5M602.6 279l16.5 -16.5M608.2 262.5l16.5 16.5M608.2 279l16.5 -16.5M613.9 262l16.5 16.5M613.9 278.5l16.5 -16.5M619.6 261.3l16.5 16.5M619.6 277.8l16.5 -16.5M625.2 260.7l16.5 16.5M625.2 277.2l16.5 -16.5M630.9 260.6l16.5 16.5M630.9 277.1l16.5 -16.5M636.6 260.6l16.5 16.5M636.6 277.1l16.5 -16.5M642.3 260.6l16.5 16.5M642.3 277.1l16.5 -16.5M647.9 260.6l16.5 16.5M647.9 277.1l16.5 -16.5M653.6 260.6l16.5 16.5M653.6 277.1l16.5 -16.5M659.3 260.6l16.5 16.5M659.3 277.1l16.5 -16.5M664.9 260.6l16.5 16.5M664.9 277.1l16.5 -16.5M670.6 260.6l16.5 16.5M670.6 277.1l16.5 -16.5M676.3 260.6l16.5 16.5M676.3 277.1l16.5 -16.5M682 260.6l16.5 16.5M682 277.1l16.5 -16.5M687.6 260.6l16.5 16.5M687.6 277.1l16.5 -16.5M693.3 260.6l16.5 16.5M693.3 277.1l16.5 -16.5M699 260.6l16.5 16.5M699 277.1l16.5 -16.5M704.6 260.6l16.5 16.5M704.6 277.1l16.5 -16.5M710.3 260.6l16.5 16.5M710.3 277.1l16.5 -16.5M716 260.6l16.5 16.5M716 277.1l16.5 -16.5M721.7 260.6l16.5 16.5M721.7 277.1l16.5 -16.5M727.3 260.6l16.5 16.5M727.3 277.1l16.5 -16.5M733 260.6l16.5 16.5M733 277.1l16.5 -16.5M738.7 260.6l16.5 16.5M738.7 277.1l16.5 -16.5M744.4 260.6l16.5 16.5M744.4 277.1l16.5 -16.5M750 260.6l16.5 16.5M750 277.1l16.5 -16.5M755.7 260.6l16.5 16.5M755.7 277.1l16.5 -16.5M761.4 260.6l16.5 16.5M761.4 277.1l16.5 -16.5M767 260.6l16.5 16.5M767 277.1l16.5 -16.5M772.7 260.6l16.5 16.5M772.7 277.1l16.5 -16.5M778.4 260.6l16.5 16.5M778.4 277.1l16.5 -16.5M784.1 260.6l16.5 16.5M784.1 277.1l16.5 -16.5M789.7 260.6l16.5 16.5M789.7 277.1l16.5 -16.5M795.4 260.6l16.5 16.5M795.4 277.1l16.5 -16.5M801.1 260.6l16.5 16.5M801.1 277.1l16.5 -16.5M806.7 260.6l16.5 16.5M806.7 277.1l16.5 -16.5M812.4 260.6l16.5 16.5M812.4 277.1l16.5 -16.5M818.1 260.6l16.5 16.5M818.1 277.1l16.5 -16.5M823.8 260.6l16.5 16.5M823.8 277.1l16.5 -16.5M829.4 260.6l16.5 16.5M829.4 277.1l16.5 -16.5M835.1 260.6l16.5 16.5M835.1 277.1l16.5 -16.5M840.8 260.6l16.5 16.5M840.8 277.1l16.5 -16.5M846.4 260.6l16.5 16.5M846.4 277.1l16.5 -16.5M872 260.6l16.5 16.5M872 277.1l16.5 -16.5"/>
<path fill="none" stroke="#A5A5A5" stroke-width="4.0" stroke-linejoin="round" stroke-linecap="round" d="M113.4 592.4C114.3 590.7 117.1 585.4 119 581.8C120.9 578.3 122.8 574.7 124.7 571.2C126.6 567.6 128.5 564.1 130.4 560.6C132.3 557 134.2 553.5 136.1 549.9C137.9 546.4 139.8 542.8 141.7 539.3C143.6 535.7 145.5 532.2 147.4 528.7C149.3 525.1 151.2 521.6 153.1 518C155 514.5 156.9 510.9 158.7 507.4C160.6 503.9 162.5 500.3 164.4 496.8C166.3 493.2 168.2 489.7 170.1 486.1C172 482.6 173.9 479.1 175.8 475.5C177.6 472 179.5 468.4 181.4 464.9C183.3 461.3 185.2 457.8 187.1 454.3C189 450.7 190.9 447.2 192.8 443.6C194.7 440.1 196.6 436.5 198.4 433C200.3 429.5 202.2 425.9 204.1 422.4C206 418.8 207.9 415.3 209.8 411.7C211.7 408.2 213.6 404.6 215.5 401.1C217.4 397.6 219.2 394 221.1 390.5C223 386.9 224.9 383.4 226.8 379.8C228.7 376.3 230.6 372.8 232.5 369.2C234.4 365.7 236.3 362.1 238.2 358.6C240 355 241.9 351.5 243.8 348C245.7 344.4 247.6 340.9 249.5 337.3C251.4 333.8 253.3 330.2 255.2 326.7C257.1 323.2 258.9 319.6 260.8 316.1C262.7 312.5 264.6 309 266.5 305.4C268.4 301.9 270.3 298.4 272.2 294.8C274.1 291.3 276 287.7 277.9 284.2C279.7 280.6 281.6 277.1 283.5 273.5C285.4 270 287.3 266.5 289.2 262.9C291.1 259.4 293 255.8 294.9 252.3C296.8 248.7 298.7 245.2 300.5 241.7C302.4 238.1 304.3 234.6 306.2 231C308.1 227.5 310 223.9 311.9 220.4C313.8 216.9 315.7 213.3 317.6 209.8C319.4 206.2 321.3 202.7 323.2 199.1C325.1 195.6 327 192.1 328.9 188.5C330.8 185 331.8 182.2 334.6 177.9C337.3 173.5 342.6 165.6 345.4 162.5C348.1 159.6 349.1 160.6 351 159.6C352.9 158.7 354.8 157.5 356.7 156.7C358.6 155.9 360.5 155.6 362.4 154.8C364.3 154 366.1 152.7 368 151.9C369.9 151.1 371.8 150.6 373.7 150C375.6 149.3 377.5 148.7 379.4 148C381.3 147.4 383.2 146.7 385.1 146.1C386.9 145.4 388.8 144.8 390.7 144.2C392.6 143.5 394.5 142.9 396.4 142.2C398.3 141.6 400.2 140.9 402.1 140.3C404 139.6 405.9 138.8 407.7 138.4C409.6 137.9 411.5 137.7 413.4 137.4C415.3 137.1 417.2 136.7 419.1 136.4C421 136.1 422.9 135.8 424.8 135.5C426.7 135.1 428.5 134.8 430.4 134.5C432.3 134.2 434.2 133.7 436.1 133.5C438 133.5 439.9 133.5 441.8 133.5C443.7 133.4 445.6 132.9 447.4 132.6C449.3 132.2 451.2 131.9 453.1 131.6C455 131.3 456.9 131 458.8 130.6C460.7 130.3 462.6 129.8 464.5 129.7C466.4 129.7 468.2 129.7 470.1 129.7C472 129.5 473.9 129 475.8 128.7C477.7 128.4 479.6 127.9 481.5 127.7C483.4 127.7 485.3 127.7 487.2 127.7C489 127.6 490.9 126.9 492.8 126.8C494.7 126.8 496.6 126.8 498.5 126.8C500.4 126.6 502.3 126 504.2 125.8C506.1 125.8 507.9 125.8 509.8 125.8C511.7 125.6 513.6 125 515.5 124.8C517.4 124.8 519.3 124.8 521.2 124.8C523.1 124.7 525 124 526.9 123.9C528.7 123.9 530.6 123.9 532.5 123.9C534.4 123.9 536.3 123.9 538.2 123.9C540.1 123.7 542 123.1 543.9 122.9C545.8 122.9 547.7 122.9 549.5 122.9C551.4 122.7 553.3 122.1 555.2 121.9C557.1 121.9 559 121.9 560.9 121.9C562.8 121.9 564.7 121.9 566.6 121.9C568.5 121.9 570.3 121.9 572.2 121.9C574.1 121.8 574.1 121.3 577.9 121C581.7 120.6 582.7 120.8 594.9 120C607.1 119.2 632.3 117.1 651.1 116.1C669.9 115.2 698.3 114.5 707.8 114.2"/><path fill="#A5A5A5" d="M113.4 584.7L121.1 600.2L105.6 600.2zM119 574.1L126.8 589.6L111.3 589.6zM124.7 563.4L132.5 578.9L117 578.9zM130.4 552.8L138.1 568.3L122.6 568.3zM136.1 542.2L143.8 557.7L128.3 557.7zM141.7 531.5L149.5 547L134 547zM147.4 520.9L155.1 536.4L139.6 536.4zM153.1 510.3L160.8 525.8L145.3 525.8zM158.7 499.7L166.5 515.2L151 515.2zM164.4 489L172.2 504.5L156.7 504.5zM170.1 478.4L177.8 493.9L162.3 493.9zM175.8 467.8L183.5 483.3L168 483.3zM181.4 457.1L189.2 472.6L173.7 472.6zM187.1 446.5L194.9 462L179.4 462zM192.8 435.9L200.5 451.4L185 451.4zM198.4 425.2L206.2 440.7L190.7 440.7zM204.1 414.6L211.9 430.1L196.4 430.1zM209.8 404L217.5 419.5L202 419.5zM215.5 393.4L223.2 408.9L207.7 408.9zM221.1 382.7L228.9 398.2L213.4 398.2zM226.8 372.1L234.6 387.6L219.1 387.6zM232.5 361.5L240.2 377L224.7 377zM238.2 350.8L245.9 366.3L230.4 366.3zM243.8 340.2L251.6 355.7L236.1 355.7zM249.5 329.6L257.2 345.1L241.7 345.1zM255.2 318.9L262.9 334.4L247.4 334.4zM260.8 308.3L268.6 323.8L253.1 323.8zM266.5 297.7L274.3 313.2L258.8 313.2zM272.2 287.1L279.9 302.6L264.4 302.6zM277.9 276.4L285.6 291.9L270.1 291.9zM283.5 265.8L291.3 281.3L275.8 281.3zM289.2 255.2L296.9 270.7L281.4 270.7zM294.9 244.5L302.6 260L287.1 260zM300.5 233.9L308.3 249.4L292.8 249.4zM306.2 223.3L314 238.8L298.5 238.8zM311.9 212.7L319.6 228.2L304.1 228.2zM317.6 202L325.3 217.5L309.8 217.5zM323.2 191.4L331 206.9L315.5 206.9zM328.9 180.8L336.7 196.3L321.2 196.3zM334.6 170.1L342.3 185.6L326.8 185.6zM345.4 154.8L353.1 170.3L337.6 170.3zM351 151.9L358.8 167.4L343.3 167.4zM356.7 149L364.4 164.5L348.9 164.5zM362.4 147L370.1 162.5L354.6 162.5zM368 144.1L375.8 159.6L360.3 159.6zM373.7 142.2L381.5 157.7L366 157.7zM379.4 140.3L387.1 155.8L371.6 155.8zM385.1 138.3L392.8 153.8L377.3 153.8zM390.7 136.4L398.5 151.9L383 151.9zM396.4 134.5L404.2 150L388.7 150zM402.1 132.5L409.8 148L394.3 148zM407.7 130.6L415.5 146.1L400 146.1zM413.4 129.6L421.2 145.1L405.7 145.1zM419.1 128.7L426.8 144.2L411.3 144.2zM424.8 127.7L432.5 143.2L417 143.2zM430.4 126.7L438.2 142.2L422.7 142.2zM436.1 125.8L443.9 141.3L428.4 141.3zM441.8 125.8L449.5 141.3L434 141.3zM447.4 124.8L455.2 140.3L439.7 140.3zM453.1 123.8L460.9 139.3L445.4 139.3zM458.8 122.9L466.5 138.4L451 138.4zM464.5 121.9L472.2 137.4L456.7 137.4zM470.1 121.9L477.9 137.4L462.4 137.4zM475.8 120.9L483.6 136.4L468.1 136.4zM481.5 120L489.2 135.5L473.7 135.5zM487.2 120L494.9 135.5L479.4 135.5zM492.8 119L500.6 134.5L485.1 134.5zM498.5 119L506.2 134.5L490.7 134.5zM504.2 118L511.9 133.5L496.4 133.5zM509.8 118L517.6 133.5L502.1 133.5zM515.5 117.1L523.3 132.6L507.8 132.6zM521.2 117.1L528.9 132.6L513.4 132.6zM526.9 116.1L534.6 131.6L519.1 131.6zM532.5 116.1L540.3 131.6L524.8 131.6zM538.2 116.1L546 131.6L530.5 131.6zM543.9 115.1L551.6 130.6L536.1 130.6zM549.5 115.1L557.3 130.6L541.8 130.6zM555.2 114.2L563 129.7L547.5 129.7zM560.9 114.2L568.6 129.7L553.1 129.7zM566.6 114.2L574.3 129.7L558.8 129.7zM572.2 114.2L580 129.7L564.5 129.7zM577.9 113.2L585.7 128.7L570.2 128.7zM594.9 112.2L602.7 127.7L587.2 127.7zM651.1 108.4L658.8 123.9L643.3 123.9zM707.8 106.5L715.5 122L700 122z"/>
<rect x="435.5" y="310.6" width="467.1" height="196.4" fill="#fff" stroke="#000" stroke-width="2.0"/><polyline fill="none" stroke="#ED7D31" stroke-width="4.0" stroke-linejoin="round" stroke-linecap="round" points="499.5,335.4 564,335.4"/><path fill="#ED7D31" d="M525.5 329.1h12.5v12.5h-12.5z"/><polyline fill="none" stroke="#5B9BD5" stroke-width="4.0" stroke-linejoin="round" stroke-linecap="round" points="499.5,383.8 564,383.8"/><path fill="#5B9BD5" d="M531.8 377.1l6.75 6.75l-6.75 6.75l-6.75 -6.75z"/><polyline fill="none" stroke="#FFC000" stroke-width="4.0" stroke-linejoin="round" stroke-linecap="round" points="499.5,432.3 564,432.3"/><path fill="none" stroke="#FFC000" stroke-width="1.75" d="M524.8 425.3l14 14M524.8 439.3l14 -14"/><polyline fill="none" stroke="#A5A5A5" stroke-width="4.0" stroke-linejoin="round" stroke-linecap="round" points="499.5,480.8 564,480.8"/><path fill="#A5A5A5" d="M531.8 474.1L538.5 487.5L525 487.5z"/>
<g stroke="#000" stroke-width="2.2" fill="none"><path d="M112.8 772V1325H975.5V772"/><path d="M111.7 772H976.6"/><path d="M104.8 1325H112.8"/><path d="M104.8 1214.4H112.8"/><path d="M104.8 1103.8H112.8"/><path d="M104.8 993.2H112.8"/><path d="M104.8 882.6H112.8"/><path d="M104.8 772H112.8"/><path d="M975.5 1325H983.5"/><path d="M975.5 1246H983.5"/><path d="M975.5 1167H983.5"/><path d="M975.5 1088H983.5"/><path d="M975.5 1009H983.5"/><path d="M975.5 930H983.5"/><path d="M975.5 851H983.5"/><path d="M975.5 772H983.5"/><path d="M112.8 1325V1332.5"/><path d="M400.4 1325V1332.5"/><path d="M687.9 1325V1332.5"/><path d="M975.5 1325V1332.5"/></g>
<path fill="none" stroke="#ED7D31" stroke-width="4.0" stroke-linejoin="round" stroke-linecap="round" d="M114.5 883.7C115.4 883.4 118.2 882.5 120 882.1C121.8 881.7 123.6 881.5 125.5 881.5C127.3 881.6 129.1 882.8 130.9 883.1C132.7 883.2 134.6 883.2 136.4 883.2C138.2 883.2 140 883.1 141.8 883.1C143.7 883.1 145.5 883.3 147.3 883.3C149.1 883.2 151 883 152.8 883C154.6 883.2 156.4 884.4 158.2 884.4C160.1 884.4 161.9 883.3 163.7 882.6C165.5 881.9 167.3 880.5 169.2 880.5C171 880.6 172.8 882.8 174.6 883C176.4 883 178.3 881.5 180.1 881.5C181.9 881.7 183.7 884.1 185.6 884.1C187.4 884.1 189.2 882.2 191 881.8C192.8 881.5 194.7 881.5 196.5 881.5C198.3 881.5 199.5 881.7 201.9 881.8C204.4 881.9 208.8 881.8 211.1 882C213.5 919.4 214.4 1054.7 216.3 1106.1C218.2 1157.6 220.8 1171.9 222.7 1190.8C224.5 1209.8 224.8 1209.5 227.3 1219.7C229.7 1230 233.9 1252.3 237.6 1252.3C241.3 1250 246.5 1213.5 249.7 1205.6C252.8 1204.4 254.2 1204.4 256.6 1204.4C259 1205.2 261.8 1209.6 264.1 1210C266.4 1210 268.5 1206.7 270.4 1206.7C272.3 1207 273.5 1210.9 275.6 1212.2C277.7 1213.5 280.8 1214.4 283 1214.4C285.2 1214.2 287.1 1211.1 288.8 1211.1C290.5 1211.8 291.5 1216.8 293.4 1218.8C295.3 1220.9 298.3 1222.1 300.3 1223.2C302.3 1224.4 303.6 1224.5 305.5 1225.5C307.4 1226.4 309.8 1228.8 311.8 1228.8C313.8 1228.6 315.8 1224.5 317.5 1224.4C319.3 1224.4 320.4 1226 322.1 1227.7C323.9 1229.3 326.1 1231.7 327.9 1234.3C329.7 1236.9 331.2 1242.8 333.1 1243.2C335 1243.2 337.4 1237.3 339.4 1236.5C341.4 1236.5 343.3 1238 345.2 1238.7C347 1239.5 348.7 1240.9 350.3 1240.9C352 1240.8 353.1 1237.6 354.9 1237.6C356.8 1239.8 359.3 1251.1 361.3 1254.2C363.2 1256.4 364.5 1255.5 366.4 1256.4C368.4 1257.3 370.8 1259.7 372.8 1259.7C374.7 1259 375.9 1252.6 377.9 1252C379.9 1252 382.7 1256.1 384.8 1256.4C386.9 1256.4 388.5 1254.2 390.6 1254.2C392.7 1256.8 395.3 1270.8 397.5 1271.9C399.7 1271.9 401.4 1263.2 403.8 1260.9C406.2 1258.5 409.7 1257.5 411.9 1257.5C414.1 1260.1 415.1 1273.6 417 1276.3C419 1276.3 421.7 1274.1 423.4 1274.1C425 1274.1 425.1 1275.6 426.8 1276.3C428.5 1277.1 431.3 1278.5 433.7 1278.5C436.1 1278 439 1273 441.2 1273C443.4 1273.4 445.1 1278.2 447 1280.8C448.8 1283.3 450.3 1286.7 452.1 1288.5C453.9 1290.3 455.9 1290.9 457.9 1291.8C459.9 1292.7 462.5 1293.5 464.2 1294C465.9 1294.6 466.7 1294.4 468.2 1295.1C469.8 1295.9 471.7 1297.2 473.4 1298.5C475.1 1299.7 477 1302.9 478.6 1302.9C480.2 1302.9 481.3 1299.2 483.2 1298.5C485.1 1298.5 487.8 1298.5 490.1 1298.5C492.4 1298.1 495.2 1296.2 497 1296.2C498.8 1297 499.7 1300.3 501 1302.9C502.4 1305.5 503.1 1311.5 505 1311.7C507 1311.7 510.6 1304.7 512.5 1304C514.4 1304 515.2 1306.4 516.5 1307.3C517.9 1308.2 518.7 1309.5 520.6 1309.5C522.4 1306.4 525.6 1288.5 527.5 1288.5C529.4 1288.5 530.2 1306.2 532.1 1309.5C534 1309.5 537 1309.5 539 1308.4C541 1306.6 539 1300.2 544.1 1298.5C549.9 1297.8 563.9 1297.8 573.5 1297.8C583.1 1298.2 592.1 1299.6 601.7 1300.7C611.2 1301.8 621.2 1304.4 631 1304.4C640.8 1303.2 650.7 1293.9 660.3 1293.1C669.9 1293.1 678.9 1296.4 688.5 1300.1C698.1 1303.8 708.2 1314.7 717.8 1315.4C727.5 1315.4 737.1 1305.4 746.6 1304.2C756.1 1304.2 765.1 1307.9 774.8 1308.4C784.5 1308.4 795.1 1307.3 804.7 1307C814.3 1306.7 823.1 1306.5 832.3 1306.5C841.5 1307.7 850.6 1313.1 859.9 1314.1C869.2 1314.1 883.4 1312.4 888.1 1312.1"/><path fill="#ED7D31" d="M108 877.2h13v13h-13zM113.5 875.6h13v13h-13zM119 875h13v13h-13zM124.4 876.6h13v13h-13zM129.9 876.7h13v13h-13zM135.3 876.6h13v13h-13zM140.8 876.8h13v13h-13zM146.3 876.5h13v13h-13zM151.7 877.9h13v13h-13zM157.2 876.1h13v13h-13zM162.7 874h13v13h-13zM168.1 876.5h13v13h-13zM173.6 875h13v13h-13zM179.1 877.6h13v13h-13zM184.5 875.3h13v13h-13zM190 875h13v13h-13zM195.4 875.3h13v13h-13zM204.6 875.5h13v13h-13zM209.8 1099.6h13v13h-13zM216.2 1184.3h13v13h-13zM220.8 1213.2h13v13h-13zM231.1 1245.8h13v13h-13zM243.2 1199.1h13v13h-13zM250.1 1197.9h13v13h-13zM257.6 1203.5h13v13h-13zM263.9 1200.2h13v13h-13zM269.1 1205.7h13v13h-13zM276.5 1207.9h13v13h-13zM282.3 1204.6h13v13h-13zM286.9 1212.3h13v13h-13zM293.8 1216.7h13v13h-13zM299 1219h13v13h-13zM305.3 1222.3h13v13h-13zM311 1217.9h13v13h-13zM315.6 1221.2h13v13h-13zM321.4 1227.8h13v13h-13zM326.6 1236.7h13v13h-13zM332.9 1230h13v13h-13zM338.7 1232.2h13v13h-13zM343.8 1234.4h13v13h-13zM348.4 1231.1h13v13h-13zM354.8 1247.7h13v13h-13zM359.9 1249.9h13v13h-13zM366.3 1253.2h13v13h-13zM371.4 1245.5h13v13h-13zM378.3 1249.9h13v13h-13zM384.1 1247.7h13v13h-13zM391 1265.4h13v13h-13zM397.3 1254.4h13v13h-13zM405.4 1251h13v13h-13zM410.5 1269.8h13v13h-13zM416.9 1267.6h13v13h-13zM420.3 1269.8h13v13h-13zM427.2 1272h13v13h-13zM434.7 1266.5h13v13h-13zM440.5 1274.3h13v13h-13zM445.6 1282h13v13h-13zM451.4 1285.3h13v13h-13zM457.7 1287.5h13v13h-13zM461.7 1288.6h13v13h-13zM466.9 1292h13v13h-13zM472.1 1296.4h13v13h-13zM476.7 1292h13v13h-13zM483.6 1292h13v13h-13zM490.5 1289.7h13v13h-13zM494.5 1296.4h13v13h-13zM498.5 1305.2h13v13h-13zM506 1297.5h13v13h-13zM510 1300.8h13v13h-13zM514.1 1303h13v13h-13zM521 1282h13v13h-13zM525.6 1303h13v13h-13zM532.5 1301.9h13v13h-13zM537.6 1292h13v13h-13zM567 1291.3h13v13h-13zM595.2 1294.2h13v13h-13zM624.5 1297.9h13v13h-13zM653.8 1286.6h13v13h-13zM682 1293.6h13v13h-13zM711.3 1308.9h13v13h-13zM740.1 1297.7h13v13h-13zM768.3 1301.9h13v13h-13zM798.2 1300.5h13v13h-13zM825.8 1300h13v13h-13zM853.4 1307.6h13v13h-13zM881.6 1305.6h13v13h-13z"/>
<path fill="none" stroke="#5B9BD5" stroke-width="4.0" stroke-linejoin="round" stroke-linecap="round" d="M112.8 876C113.7 877 116.2 881 118 882C119.7 882.1 121.6 882.1 123.4 882.1C125.3 882 127.1 881.8 128.9 881.6C130.7 881.3 132.5 880.7 134.4 880.7C136.2 881 138 882.8 139.8 883.2C141.7 883.4 143.5 883.4 145.3 883.4C147.1 883.1 148.9 881.7 150.8 881.2C152.6 880.8 154.4 880.7 156.2 880.7C158 880.8 159.9 881.7 161.7 882C163.5 882.2 165.3 882.2 167.2 882.2C169 882.1 170.8 881.3 172.6 881.3C174.4 881.5 176.3 882.8 178.1 883.1C179.9 883.1 181.7 882.8 183.5 882.8C185.4 882.8 187.2 883 189 883C190.8 882.9 192.6 881.8 194.5 881.8C196.3 881.8 198.1 882.5 199.9 882.7C201.8 882.9 203.6 882.9 205.4 882.9C207.2 882.7 209 881.8 210.9 881.4C212.7 881 214.5 880.5 216.3 880.5C218.1 880.8 220.3 882 221.8 882.7C223.3 883.5 224.2 882.7 225.5 885.1C226.8 922.8 228 1063.8 229.6 1108.9C231.1 1153.9 233.1 1135.6 234.7 1155.5C236.4 1175.3 236.5 1207.1 239.3 1228C242.2 1248.9 249 1270.8 252 1281.1C255 1289.5 255.3 1289.5 257.2 1289.5C259 1287.8 257.2 1270.9 262.9 1270.9C273.6 1270.9 310 1283.5 321.6 1289.5C332.5 1295.5 328.8 1304.2 332.5 1307.2C336.2 1307.2 340.3 1307.2 344 1307.2C347.7 1306.9 351.2 1305.8 354.9 1305.3C358.7 1304.9 362.6 1304.4 366.4 1304.4C370.3 1306.7 373.1 1315.6 377.9 1318.7C382.7 1321.8 387.5 1322.9 395.2 1322.9C402.9 1322.2 414.2 1316.1 423.9 1314.5C433.7 1313.1 444 1313.1 453.9 1313.1C463.7 1314 467.8 1318.9 483.2 1320.1C498.5 1320.7 525.9 1320.6 545.9 1320.7C565.8 1320.7 583.7 1320.7 602.8 1320.7C621.9 1320.9 641.1 1321.6 660.3 1321.9C679.6 1322.2 708.7 1322.3 718.4 1322.3"/><path fill="#5B9BD5" d="M112.8 868l8.0 8.0l-8.0 8.0l-8.0 -8.0zM118 874l8.0 8.0l-8.0 8.0l-8.0 -8.0zM123.4 874.1l8.0 8.0l-8.0 8.0l-8.0 -8.0zM128.9 873.6l8.0 8.0l-8.0 8.0l-8.0 -8.0zM134.4 872.7l8.0 8.0l-8.0 8.0l-8.0 -8.0zM139.8 875.2l8.0 8.0l-8.0 8.0l-8.0 -8.0zM145.3 875.4l8.0 8.0l-8.0 8.0l-8.0 -8.0zM150.8 873.2l8.0 8.0l-8.0 8.0l-8.0 -8.0zM156.2 872.7l8.0 8.0l-8.0 8.0l-8.0 -8.0zM161.7 874l8.0 8.0l-8.0 8.0l-8.0 -8.0zM167.2 874.2l8.0 8.0l-8.0 8.0l-8.0 -8.0zM172.6 873.3l8.0 8.0l-8.0 8.0l-8.0 -8.0zM178.1 875.1l8.0 8.0l-8.0 8.0l-8.0 -8.0zM183.5 874.8l8.0 8.0l-8.0 8.0l-8.0 -8.0zM189 875l8.0 8.0l-8.0 8.0l-8.0 -8.0zM194.5 873.8l8.0 8.0l-8.0 8.0l-8.0 -8.0zM199.9 874.7l8.0 8.0l-8.0 8.0l-8.0 -8.0zM205.4 874.9l8.0 8.0l-8.0 8.0l-8.0 -8.0zM210.9 873.4l8.0 8.0l-8.0 8.0l-8.0 -8.0zM216.3 872.5l8.0 8.0l-8.0 8.0l-8.0 -8.0zM221.8 874.7l8.0 8.0l-8.0 8.0l-8.0 -8.0zM225.5 877.1l8.0 8.0l-8.0 8.0l-8.0 -8.0zM229.6 1100.9l8.0 8.0l-8.0 8.0l-8.0 -8.0zM234.7 1147.5l8.0 8.0l-8.0 8.0l-8.0 -8.0zM239.3 1220l8.0 8.0l-8.0 8.0l-8.0 -8.0zM252 1273.1l8.0 8.0l-8.0 8.0l-8.0 -8.0zM257.2 1281.5l8.0 8.0l-8.0 8.0l-8.0 -8.0zM262.9 1262.9l8.0 8.0l-8.0 8.0l-8.0 -8.0zM321.6 1281.5l8.0 8.0l-8.0 8.0l-8.0 -8.0zM332.5 1299.2l8.0 8.0l-8.0 8.0l-8.0 -8.0zM344 1299.2l8.0 8.0l-8.0 8.0l-8.0 -8.0zM354.9 1297.3l8.0 8.0l-8.0 8.0l-8.0 -8.0zM366.4 1296.4l8.0 8.0l-8.0 8.0l-8.0 -8.0zM377.9 1310.7l8.0 8.0l-8.0 8.0l-8.0 -8.0zM395.2 1314.9l8.0 8.0l-8.0 8.0l-8.0 -8.0zM423.9 1306.5l8.0 8.0l-8.0 8.0l-8.0 -8.0zM453.9 1305.1l8.0 8.0l-8.0 8.0l-8.0 -8.0zM483.2 1312.1l8.0 8.0l-8.0 8.0l-8.0 -8.0zM545.9 1312.7l8.0 8.0l-8.0 8.0l-8.0 -8.0zM602.8 1312.7l8.0 8.0l-8.0 8.0l-8.0 -8.0zM660.3 1313.9l8.0 8.0l-8.0 8.0l-8.0 -8.0zM718.4 1314.3l8.0 8.0l-8.0 8.0l-8.0 -8.0z"/>
<path fill="none" stroke="#FFC000" stroke-width="4.0" stroke-linejoin="round" stroke-linecap="round" d="M122 1318.7C123 1315.6 125.8 1306.5 127.8 1300.4C129.7 1294.3 131.6 1288.2 133.5 1282.1C135.4 1276 137.3 1269.9 139.3 1263.8C141.2 1257.7 143.1 1251.6 145 1245.5C146.9 1239.4 148.8 1233.3 150.8 1227.2C152.7 1221.1 154.6 1215 156.5 1208.9C158.4 1202.8 160.3 1196.7 162.3 1190.6C164.2 1184.5 166.1 1178.4 168 1172.3C169.9 1166.2 171.8 1160.1 173.8 1154C175.7 1147.9 177.6 1141.8 179.5 1135.7C181.4 1129.6 183.3 1123.5 185.3 1117.4C187.2 1111.3 189.1 1105.2 191 1099.1C192.9 1093 194.9 1086.9 196.8 1080.8C198.7 1074.7 200.6 1068.6 202.5 1062.5C204.4 1056.4 206.4 1049.8 208.3 1044.2C210.2 1038.5 212.1 1032 214 1028.6C215.9 1025.3 217.9 1025.6 219.8 1024.1C221.7 1022.6 223.6 1021.1 225.5 1019.6C227.4 1018.1 229.4 1016.6 231.3 1015.1C233.2 1013.6 235.1 1012.1 237 1010.6C238.9 1009.1 240.9 1007.5 242.8 1006C244.7 1004.5 246.6 1003 248.5 1001.5C250.4 1000 252.4 998.5 254.3 996.9C256.2 995.3 258.1 993.6 260 991.9C262 990.2 263.9 988.5 265.8 986.8C267.7 985 269.6 983.3 271.5 981.6C273.5 979.9 275.4 978.2 277.3 976.6C279.2 975 281.1 973.5 283 972C285 970.4 286.9 968.9 288.8 967.3C290.7 965.8 292.6 964.2 294.5 962.7C296.5 961.2 298.4 959.8 300.3 958.4C302.2 957 304.1 955.5 306 954.1C308 952.6 309.9 951 311.8 949.8C313.7 948.5 315.6 947.6 317.5 946.5C319.5 945.5 321.4 944.4 323.3 943.3C325.2 942.3 327.1 941.1 329.1 940.1C331 939.2 332.9 938.4 334.8 937.6C336.7 936.7 338.6 936 340.6 935.2C342.5 934.4 344.4 933.6 346.3 932.8C348.2 932 350.1 931.2 352.1 930.3C354 929.5 355.9 928.7 357.8 927.9C359.7 927.1 361.6 926.2 363.6 925.4C365.5 924.6 367.4 923.7 369.3 922.9C371.2 922 373.1 921.1 375.1 920.1C377 919.2 378.9 918.3 380.8 917.4C382.7 916.5 384.6 915.6 386.6 914.8C388.5 914 390.4 913.3 392.3 912.6C394.2 911.8 396.1 911.1 398.1 910.3C400 909.6 401.9 908.9 403.8 908.1C405.7 907.4 407.7 906.7 409.6 906C411.5 905.2 413.4 904.5 415.3 903.8C417.2 903.1 419.2 902.3 421.1 901.6C423 901 424.9 900.3 426.8 899.7C428.7 899 430.7 898.3 432.6 897.7C434.5 897 436.4 896.4 438.3 895.7C440.2 895.1 442.2 894.4 444.1 893.7C446 893.1 447.9 892.3 449.8 891.8C451.7 891.2 453.7 891 455.6 890.6C457.5 890.2 459.4 889.8 461.3 889.5C463.2 889.1 465.2 888.7 467.1 888.3C469 887.9 470.9 887.5 472.8 887.1C474.8 886.8 476.7 886.3 478.6 886C480.5 885.7 482.4 885.4 484.3 885.2C486.3 884.9 488.2 884.7 490.1 884.4C492 884.2 493.9 884 495.8 883.7C497.8 883.5 499.7 883.2 501.6 883C503.5 882.7 505.4 882.5 507.3 882.3C509.3 882 511.2 881.8 513.1 881.5C515 881.3 516.9 881.1 518.8 880.8C520.8 880.6 522.7 880.4 524.6 880.1C526.5 879.9 528.4 879.6 530.3 879.4C532.3 879.2 534.2 879 536.1 878.7C538 878.4 539.9 877.9 541.8 877.4C543.8 876.8 542 877.4 547.6 875.5C553.2 873.4 566 867.5 575.2 865.2C584.4 863 593.4 863.4 602.8 862.1C612.2 860.7 622 858.9 631.6 857.3C641.2 855.7 650.6 854.4 660.3 852.6C670 850.7 680 847.3 689.7 846.3C699.3 846.3 708.8 846.3 718.4 846.3C728 845.5 737.6 842.8 747.2 841.5C756.8 840.2 766.3 839.7 775.9 838.4C785.5 837 795.1 834.9 804.7 833.6C814.3 832.3 824 831.2 833.4 830.5C842.9 829.7 852.2 829.4 861.6 828.9C871 828.4 885.1 827.6 889.8 827.3"/><path fill="none" stroke="#FFC000" stroke-width="1.75" d="M113.8 1310.4l16.5 16.5M113.8 1326.9l16.5 -16.5M119.5 1292.1l16.5 16.5M119.5 1308.6l16.5 -16.5M125.3 1273.8l16.5 16.5M125.3 1290.3l16.5 -16.5M131 1255.5l16.5 16.5M131 1272l16.5 -16.5M136.8 1237.2l16.5 16.5M136.8 1253.7l16.5 -16.5M142.5 1218.9l16.5 16.5M142.5 1235.4l16.5 -16.5M148.3 1200.6l16.5 16.5M148.3 1217.1l16.5 -16.5M154 1182.3l16.5 16.5M154 1198.8l16.5 -16.5M159.8 1164l16.5 16.5M159.8 1180.5l16.5 -16.5M165.5 1145.7l16.5 16.5M165.5 1162.2l16.5 -16.5M171.3 1127.4l16.5 16.5M171.3 1143.9l16.5 -16.5M177 1109.1l16.5 16.5M177 1125.6l16.5 -16.5M182.8 1090.8l16.5 16.5M182.8 1107.3l16.5 -16.5M188.5 1072.5l16.5 16.5M188.5 1089l16.5 -16.5M194.3 1054.2l16.5 16.5M194.3 1070.7l16.5 -16.5M200 1035.9l16.5 16.5M200 1052.4l16.5 -16.5M205.8 1020.4l16.5 16.5M205.8 1036.9l16.5 -16.5M211.5 1015.9l16.5 16.5M211.5 1032.4l16.5 -16.5M217.3 1011.4l16.5 16.5M217.3 1027.9l16.5 -16.5M223 1006.8l16.5 16.5M223 1023.3l16.5 -16.5M228.8 1002.3l16.5 16.5M228.8 1018.8l16.5 -16.5M234.5 997.8l16.5 16.5M234.5 1014.3l16.5 -16.5M240.3 993.2l16.5 16.5M240.3 1009.7l16.5 -16.5M246 988.7l16.5 16.5M246 1005.2l16.5 -16.5M251.8 983.7l16.5 16.5M251.8 1000.2l16.5 -16.5M257.5 978.5l16.5 16.5M257.5 995l16.5 -16.5M263.3 973.3l16.5 16.5M263.3 989.8l16.5 -16.5M269 968.4l16.5 16.5M269 984.9l16.5 -16.5M274.8 963.7l16.5 16.5M274.8 980.2l16.5 -16.5M280.5 959.1l16.5 16.5M280.5 975.6l16.5 -16.5M286.3 954.5l16.5 16.5M286.3 971l16.5 -16.5M292 950.2l16.5 16.5M292 966.7l16.5 -16.5M297.8 945.8l16.5 16.5M297.8 962.3l16.5 -16.5M303.5 941.5l16.5 16.5M303.5 958l16.5 -16.5M309.3 938.3l16.5 16.5M309.3 954.8l16.5 -16.5M315 935.1l16.5 16.5M315 951.6l16.5 -16.5M320.8 931.9l16.5 16.5M320.8 948.4l16.5 -16.5M326.6 929.3l16.5 16.5M326.6 945.8l16.5 -16.5M332.3 926.9l16.5 16.5M332.3 943.4l16.5 -16.5M338.1 924.5l16.5 16.5M338.1 941l16.5 -16.5M343.8 922.1l16.5 16.5M343.8 938.6l16.5 -16.5M349.6 919.6l16.5 16.5M349.6 936.1l16.5 -16.5M355.3 917.2l16.5 16.5M355.3 933.7l16.5 -16.5M361.1 914.6l16.5 16.5M361.1 931.1l16.5 -16.5M366.8 911.9l16.5 16.5M366.8 928.4l16.5 -16.5M372.6 909.2l16.5 16.5M372.6 925.7l16.5 -16.5M378.3 906.5l16.5 16.5M378.3 923l16.5 -16.5M384.1 904.3l16.5 16.5M384.1 920.8l16.5 -16.5M389.8 902.1l16.5 16.5M389.8 918.6l16.5 -16.5M395.6 899.9l16.5 16.5M395.6 916.4l16.5 -16.5M401.3 897.7l16.5 16.5M401.3 914.2l16.5 -16.5M407.1 895.5l16.5 16.5M407.1 912l16.5 -16.5M412.8 893.4l16.5 16.5M412.8 909.9l16.5 -16.5M418.6 891.4l16.5 16.5M418.6 907.9l16.5 -16.5M424.3 889.4l16.5 16.5M424.3 905.9l16.5 -16.5M430.1 887.5l16.5 16.5M430.1 904l16.5 -16.5M435.8 885.5l16.5 16.5M435.8 902l16.5 -16.5M441.6 883.5l16.5 16.5M441.6 900l16.5 -16.5M447.3 882.4l16.5 16.5M447.3 898.9l16.5 -16.5M453.1 881.2l16.5 16.5M453.1 897.7l16.5 -16.5M458.8 880.1l16.5 16.5M458.8 896.6l16.5 -16.5M464.6 878.9l16.5 16.5M464.6 895.4l16.5 -16.5M470.3 877.7l16.5 16.5M470.3 894.2l16.5 -16.5M476.1 876.9l16.5 16.5M476.1 893.4l16.5 -16.5M481.8 876.2l16.5 16.5M481.8 892.7l16.5 -16.5M487.6 875.5l16.5 16.5M487.6 892l16.5 -16.5M493.3 874.7l16.5 16.5M493.3 891.2l16.5 -16.5M499.1 874l16.5 16.5M499.1 890.5l16.5 -16.5M504.8 873.3l16.5 16.5M504.8 889.8l16.5 -16.5M510.6 872.6l16.5 16.5M510.6 889.1l16.5 -16.5M516.3 871.9l16.5 16.5M516.3 888.4l16.5 -16.5M522.1 871.2l16.5 16.5M522.1 887.7l16.5 -16.5M527.8 870.4l16.5 16.5M527.8 886.9l16.5 -16.5M533.6 869.1l16.5 16.5M533.6 885.6l16.5 -16.5M539.4 867.2l16.5 16.5M539.4 883.7l16.5 -16.5M567 857l16.5 16.5M567 873.5l16.5 -16.5M594.6 853.8l16.5 16.5M594.6 870.3l16.5 -16.5M623.3 849.1l16.5 16.5M623.3 865.6l16.5 -16.5M652.1 844.3l16.5 16.5M652.1 860.8l16.5 -16.5M681.4 838l16.5 16.5M681.4 854.5l16.5 -16.5M710.2 838l16.5 16.5M710.2 854.5l16.5 -16.5M738.9 833.3l16.5 16.5M738.9 849.8l16.5 -16.5M767.7 830.1l16.5 16.5M767.7 846.6l16.5 -16.5M796.4 825.4l16.5 16.5M796.4 841.9l16.5 -16.5M825.2 822.2l16.5 16.5M825.2 838.7l16.5 -16.5M853.4 820.6l16.5 16.5M853.4 837.1l16.5 -16.5M881.6 819l16.5 16.5M881.6 835.5l16.5 -16.5"/>
<path fill="none" stroke="#A5A5A5" stroke-width="4.0" stroke-linejoin="round" stroke-linecap="round" d="M113.4 1314.7C114.3 1311.7 117.2 1302.7 119.1 1296.7C121 1290.6 123 1284.6 124.9 1278.6C126.8 1272.6 128.7 1266.6 130.6 1260.5C132.5 1254.5 134.5 1248.5 136.4 1242.5C138.3 1236.5 140.2 1230.4 142.1 1224.4C144 1218.4 146 1212.4 147.9 1206.3C149.8 1200.3 151.7 1194.3 153.6 1188.3C155.6 1182.3 157.5 1176.2 159.4 1170.2C161.3 1164.2 163.2 1158.2 165.1 1152.2C167.1 1146.1 169 1140.1 170.9 1134.1C172.8 1128.1 174.7 1122.1 176.6 1116C178.6 1110 180.5 1104 182.4 1098C184.3 1091.9 186.2 1085.9 188.1 1079.9C190.1 1073.9 192 1067.9 193.9 1061.8C195.8 1055.8 197.7 1049.8 199.6 1043.8C201.6 1037.8 203.5 1031.7 205.4 1025.7C207.3 1019.7 209.1 1013.1 211.1 1007.6C213.2 1002.2 215.6 997.5 217.5 993.2C219.4 988.9 220.9 985.8 222.7 982.1C224.4 978.5 226.2 974.2 227.8 971.1C229.5 967.9 230.9 965.6 232.4 963.2C234 960.8 235.4 958.7 237 956.9C238.7 955 240.4 953.4 242.2 952.1C244 950.8 246 949.9 248 949C249.9 948 251.9 947.4 253.7 946.6C255.5 945.8 257.2 944.9 258.9 944.2C260.6 943.6 258.9 944.2 264.1 942.6C274.3 940.2 309 932 320.4 929.5C331.8 927.9 328.6 928.2 332.5 927.9C336.4 927.9 340.1 927.9 344 927.9C347.9 927.6 352.2 926.4 356.1 925.7C359.9 925.1 363.3 924.3 367 924C370.7 924 373.7 924 378.5 924C383.3 924 388.1 924 395.8 924C403.4 923.7 414.9 922.7 424.5 922.3C434.1 921.8 443.5 921.6 453.3 921.3C463.1 921 467.9 920.9 483.2 920.5C498.4 920.1 524.8 919.5 544.7 918.9C564.7 918.4 583.5 917.8 602.8 917.4C622.1 917 641.1 916.8 660.3 916.6C679.6 916.3 708.7 915.9 718.4 915.8"/><path fill="#A5A5A5" d="M113.4 1307L121.1 1322.5L105.6 1322.5zM119.1 1288.9L126.9 1304.4L111.4 1304.4zM124.9 1270.9L132.6 1286.4L117.1 1286.4zM130.6 1252.8L138.4 1268.3L122.9 1268.3zM136.4 1234.7L144.1 1250.2L128.6 1250.2zM142.1 1216.7L149.9 1232.2L134.4 1232.2zM147.9 1198.6L155.6 1214.1L140.1 1214.1zM153.6 1180.5L161.4 1196L145.9 1196zM159.4 1162.5L167.1 1178L151.6 1178zM165.1 1144.4L172.9 1159.9L157.4 1159.9zM170.9 1126.3L178.6 1141.8L163.1 1141.8zM176.6 1108.3L184.4 1123.8L168.9 1123.8zM182.4 1090.2L190.1 1105.7L174.6 1105.7zM188.1 1072.2L195.9 1087.7L180.4 1087.7zM193.9 1054.1L201.6 1069.6L186.1 1069.6zM199.6 1036L207.4 1051.5L191.9 1051.5zM205.4 1018L213.1 1033.5L197.6 1033.5zM211.1 999.9L218.9 1015.4L203.4 1015.4zM217.5 985.5L225.2 1001L209.7 1001zM222.7 974.4L230.4 989.9L214.9 989.9zM227.8 963.3L235.6 978.8L220.1 978.8zM232.4 955.4L240.2 970.9L224.7 970.9zM237 949.1L244.8 964.6L229.3 964.6zM242.2 944.4L250 959.9L234.5 959.9zM248 941.2L255.7 956.7L240.2 956.7zM253.7 938.8L261.5 954.3L246 954.3zM258.9 936.5L266.6 952L251.1 952zM264.1 934.9L271.8 950.4L256.3 950.4zM320.4 921.8L328.2 937.3L312.7 937.3zM332.5 920.2L340.3 935.7L324.8 935.7zM344 920.2L351.8 935.7L336.3 935.7zM356.1 918L363.8 933.5L348.3 933.5zM367 916.2L374.8 931.7L359.3 931.7zM378.5 916.2L386.3 931.7L370.8 931.7zM395.8 916.2L403.5 931.7L388 931.7zM424.5 914.5L432.3 930L416.8 930zM453.3 913.6L461 929.1L445.5 929.1zM483.2 912.8L490.9 928.3L475.4 928.3zM544.7 911.2L552.5 926.7L537 926.7zM602.8 909.6L610.6 925.1L595.1 925.1zM660.3 908.8L668.1 924.3L652.6 924.3zM718.4 908L726.2 923.5L710.7 923.5z"/>
<rect x="437.3" y="1001" width="498.5" height="193.8" fill="#fff" stroke="#000" stroke-width="2.0"/><polyline fill="none" stroke="#ED7D31" stroke-width="4.0" stroke-linejoin="round" stroke-linecap="round" points="516.5,1026.1 580.5,1026.1"/><path fill="#ED7D31" d="M542.2 1019.8h12.5v12.5h-12.5z"/><polyline fill="none" stroke="#5B9BD5" stroke-width="4.0" stroke-linejoin="round" stroke-linecap="round" points="516.5,1075 580.5,1075"/><path fill="#5B9BD5" d="M548.5 1068.2l6.75 6.75l-6.75 6.75l-6.75 -6.75z"/><polyline fill="none" stroke="#FFC000" stroke-width="4.0" stroke-linejoin="round" stroke-linecap="round" points="516.5,1123.9 580.5,1123.9"/><path fill="none" stroke="#FFC000" stroke-width="1.75" d="M541.5 1116.9l14 14M541.5 1130.9l14 -14"/><polyline fill="none" stroke="#A5A5A5" stroke-width="4.0" stroke-linejoin="round" stroke-linecap="round" points="516.5,1172.8 580.5,1172.8"/><path fill="#A5A5A5" d="M548.5 1166.1L555.2 1179.5L541.8 1179.5z"/><g font-family="Liberation Sans, sans-serif" xml:space="preserve"><text transform="translate(77.60 609.11) scale(1 1.06)" font-size="24.5" font-weight="normal" letter-spacing="0.8" fill="#000">0</text><text transform="translate(48.60 493.15) scale(1 1.06)" font-size="24.5" font-weight="normal" letter-spacing="0.8" fill="#000">100</text><text transform="translate(48.60 377.19) scale(1 1.06)" font-size="24.5" font-weight="normal" letter-spacing="0.8" fill="#000">200</text><text transform="translate(48.60 261.23) scale(1 1.06)" font-size="24.5" font-weight="normal" letter-spacing="0.8" fill="#000">300</text><text transform="translate(48.60 145.27) scale(1 1.06)" font-size="24.5" font-weight="normal" letter-spacing="0.8" fill="#000">400</text><text transform="translate(48.60 29.31) scale(1 1.06)" font-size="24.5" font-weight="normal" letter-spacing="0.8" fill="#000">500</text><text transform="translate(986.70 609.11) scale(1 1.06)" font-size="24.5" font-weight="normal" letter-spacing="0.8" fill="#000">0</text><text transform="translate(985.70 512.48) scale(1 1.06)" font-size="24.5" font-weight="normal" letter-spacing="0.8" fill="#000">10</text><text transform="translate(986.70 415.84) scale(1 1.06)" font-size="24.5" font-weight="normal" letter-spacing="0.8" fill="#000">20</text><text transform="translate(986.70 319.21) scale(1 1.06)" font-size="24.5" font-weight="normal" letter-spacing="0.8" fill="#000">30</text><text transform="translate(987.70 222.58) scale(1 1.06)" font-size="24.5" font-weight="normal" letter-spacing="0.8" fill="#000">40</text><text transform="translate(986.70 125.94) scale(1 1.06)" font-size="24.5" font-weight="normal" letter-spacing="0.8" fill="#000">50</text><text transform="translate(986.70 29.31) scale(1 1.06)" font-size="24.5" font-weight="normal" letter-spacing="0.8" fill="#000">60</text><text transform="translate(105.80 640.01) scale(1 1.06)" font-size="24.5" font-weight="normal" letter-spacing="0.8" fill="#000">0</text><text transform="translate(382.40 640.01) scale(1 1.06)" font-size="24.5" font-weight="normal" letter-spacing="0.8" fill="#000">50</text><text transform="translate(659.70 640.01) scale(1 1.06)" font-size="24.5" font-weight="normal" letter-spacing="0.8" fill="#000">100</text><text transform="translate(943.30 640.01) scale(1 1.06)" font-size="24.5" font-weight="normal" letter-spacing="0.8" fill="#000">150</text><text transform="translate(570.50 343.82) scale(1 1.06)" font-size="24.5" font-weight="normal" letter-spacing="0.523" fill="#000">2-1 Gas production rate</text><text transform="translate(570.50 392.32) scale(1 1.06)" font-size="24.5" font-weight="normal" letter-spacing="0.523" fill="#000">2-2 Gas production rate</text><text transform="translate(570.50 440.82) scale(1 1.06)" font-size="24.5" font-weight="normal" letter-spacing="0.523" fill="#000">2-1 Recovery factor</text><text transform="translate(570.50 489.32) scale(1 1.06)" font-size="24.5" font-weight="normal" letter-spacing="0.523" fill="#000">2-2 Recovery factor</text><text transform="translate(490.40 667.90) scale(1 1.06)" font-size="24.5" font-weight="normal" letter-spacing="0.189" word-spacing="2.6" fill="#000">Time (min)</text><text transform="translate(35.60 476.20) rotate(-90)" font-size="24.8" font-weight="normal" letter-spacing="0.207" word-spacing="1.5" fill="#000">Gas Production Rate (mL/min)</text><text transform="translate(1047.80 435.50) rotate(-90)" font-size="24.8" font-weight="normal" letter-spacing="0.053" fill="#000">Recovery  Factor (%)</text><text transform="translate(520.35 722.19) scale(1 1.04)" font-size="40" font-weight="bold" letter-spacing="1.95" fill="#000">(a)</text><text transform="translate(78.30 1334.81) scale(1 1.06)" font-size="24.5" font-weight="normal" letter-spacing="0.8" fill="#000">0</text><text transform="translate(49.30 1224.21) scale(1 1.06)" font-size="24.5" font-weight="normal" letter-spacing="0.8" fill="#000">100</text><text transform="translate(49.30 1113.61) scale(1 1.06)" font-size="24.5" font-weight="normal" letter-spacing="0.8" fill="#000">200</text><text transform="translate(49.30 1003.01) scale(1 1.06)" font-size="24.5" font-weight="normal" letter-spacing="0.8" fill="#000">300</text><text transform="translate(49.30 892.41) scale(1 1.06)" font-size="24.5" font-weight="normal" letter-spacing="0.8" fill="#000">400</text><text transform="translate(49.30 781.81) scale(1 1.06)" font-size="24.5" font-weight="normal" letter-spacing="0.8" fill="#000">500</text><text transform="translate(999.30 1334.81) scale(1 1.06)" font-size="24.5" font-weight="normal" letter-spacing="0.8" fill="#000">0</text><text transform="translate(999.30 1255.81) scale(1 1.06)" font-size="24.5" font-weight="normal" letter-spacing="0.8" fill="#000">5</text><text transform="translate(998.30 1176.81) scale(1 1.06)" font-size="24.5" font-weight="normal" letter-spacing="0.8" fill="#000">10</text><text transform="translate(998.30 1097.81) scale(1 1.06)" font-size="24.5" font-weight="normal" letter-spacing="0.8" fill="#000">15</text><text transform="translate(999.30 1018.81) scale(1 1.06)" font-size="24.5" font-weight="normal" letter-spacing="0.8" fill="#000">20</text><text transform="translate(999.30 939.81) scale(1 1.06)" font-size="24.5" font-weight="normal" letter-spacing="0.8" fill="#000">25</text><text transform="translate(999.30 860.81) scale(1 1.06)" font-size="24.5" font-weight="normal" letter-spacing="0.8" fill="#000">30</text><text transform="translate(999.30 781.81) scale(1 1.06)" font-size="24.5" font-weight="normal" letter-spacing="0.8" fill="#000">35</text><text transform="translate(105.80 1365.01) scale(1 1.06)" font-size="24.5" font-weight="normal" letter-spacing="0.8" fill="#000">0</text><text transform="translate(386.37 1365.01) scale(1 1.06)" font-size="24.5" font-weight="normal" letter-spacing="0.8" fill="#000">50</text><text transform="translate(667.63 1365.01) scale(1 1.06)" font-size="24.5" font-weight="normal" letter-spacing="0.8" fill="#000">100</text><text transform="translate(955.20 1365.01) scale(1 1.06)" font-size="24.5" font-weight="normal" letter-spacing="0.8" fill="#000">150</text><text transform="translate(587.20 1035.72) scale(1 1.06)" font-size="24.5" font-weight="normal" letter-spacing="0.523" fill="#000">2-1 Gas production rate</text><text transform="translate(587.20 1084.82) scale(1 1.06)" font-size="24.5" font-weight="normal" letter-spacing="0.523" fill="#000">2-2 Gas production rate</text><text transform="translate(587.20 1132.92) scale(1 1.06)" font-size="24.5" font-weight="normal" letter-spacing="0.523" fill="#000">2-1 Recovery factor</text><text transform="translate(587.20 1181.72) scale(1 1.06)" font-size="24.5" font-weight="normal" letter-spacing="0.523" fill="#000">2-2 Recovery factor</text><text transform="translate(489.10 1395.60) scale(1 1.06)" font-size="24.5" font-weight="normal" letter-spacing="0.189" word-spacing="2.6" fill="#000">Time (min)</text><text transform="translate(36.20 1226.50) rotate(-90)" font-size="24.8" font-weight="normal" letter-spacing="0.144" word-spacing="1.5" fill="#000">Gas Production Rate (mL/min)</text><text transform="translate(1058.90 1183.60) rotate(-90)" font-size="24.8" font-weight="normal" letter-spacing="0.084" fill="#000">Recovery  Factor (%)</text><text transform="translate(520.30 1449.84) scale(1 1.04)" font-size="40" font-weight="bold" letter-spacing="1.9" fill="#000">(b)</text></g>
</svg>
</body></html>
